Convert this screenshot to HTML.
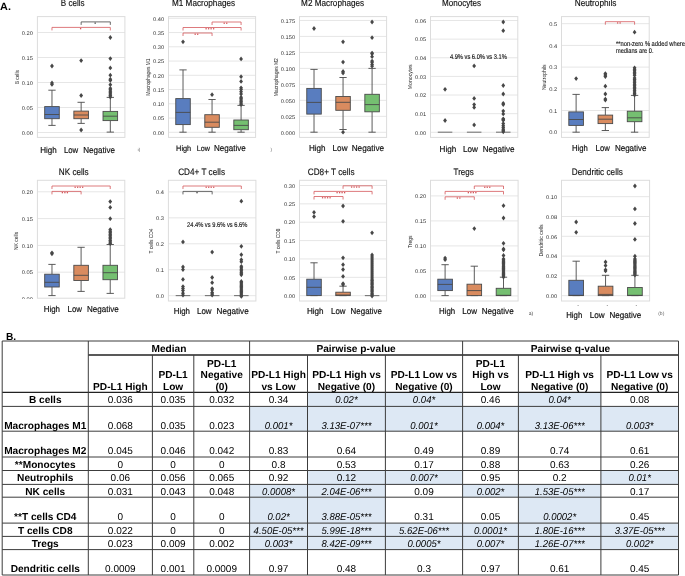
<!DOCTYPE html>
<html><head><meta charset="utf-8"><style>
html,body{margin:0;padding:0;background:#fff;width:685px;height:576px;overflow:hidden}
svg{display:block;font-family:"Liberation Sans",sans-serif;will-change:transform;text-rendering:geometricPrecision}
</style></head><body>
<svg width="685" height="576" viewBox="0 0 685 576">
<rect x="0" y="0" width="685" height="576" fill="#fff"/>
<text transform="translate(0.1,9.55) scale(1.04,1)" x="0" y="0" font-size="10.4" font-weight="bold" fill="#000">A.</text>
<line x1="37.4" y1="132.5" x2="124.9" y2="132.5" stroke="#e6e6e6" stroke-width="1"/>
<line x1="37.4" y1="107.5" x2="124.9" y2="107.5" stroke="#e6e6e6" stroke-width="1"/>
<line x1="37.4" y1="82.5" x2="124.9" y2="82.5" stroke="#e6e6e6" stroke-width="1"/>
<line x1="37.4" y1="57.5" x2="124.9" y2="57.5" stroke="#e6e6e6" stroke-width="1"/>
<line x1="37.4" y1="32.5" x2="124.9" y2="32.5" stroke="#e6e6e6" stroke-width="1"/>
<rect x="37.4" y="16.6" width="87.5" height="120.8" fill="none" stroke="#dcdcdc" stroke-width="1"/>
<text x="21.87" y="134.75" font-size="5.4" textLength="11.13" lengthAdjust="spacingAndGlyphs" fill="#333">0.00</text>
<text x="21.87" y="109.75" font-size="5.4" textLength="11.13" lengthAdjust="spacingAndGlyphs" fill="#333">0.05</text>
<text x="21.87" y="84.75" font-size="5.4" textLength="11.13" lengthAdjust="spacingAndGlyphs" fill="#333">0.10</text>
<text x="21.87" y="59.75" font-size="5.4" textLength="11.13" lengthAdjust="spacingAndGlyphs" fill="#333">0.15</text>
<text x="21.87" y="34.75" font-size="5.4" textLength="11.13" lengthAdjust="spacingAndGlyphs" fill="#333">0.20</text>
<line x1="51.98" y1="118.7" x2="51.98" y2="125.4" stroke="#4a4a4a" stroke-width="0.9"/>
<line x1="51.98" y1="106.6" x2="51.98" y2="90.2" stroke="#4a4a4a" stroke-width="0.9"/>
<line x1="48.34" y1="125.4" x2="55.63" y2="125.4" stroke="#4a4a4a" stroke-width="0.9"/>
<line x1="48.34" y1="90.2" x2="55.63" y2="90.2" stroke="#4a4a4a" stroke-width="0.9"/>
<rect x="44.69" y="106.6" width="14.58" height="12.1" fill="#597dbf" stroke="#4a4a4a" stroke-width="0.9"/>
<line x1="44.69" y1="114.5" x2="59.27" y2="114.5" stroke="#4a4a4a" stroke-width="0.9"/>
<line x1="81.15" y1="118.7" x2="81.15" y2="123.4" stroke="#4a4a4a" stroke-width="0.9"/>
<line x1="81.15" y1="111.1" x2="81.15" y2="102.3" stroke="#4a4a4a" stroke-width="0.9"/>
<line x1="77.5" y1="123.4" x2="84.8" y2="123.4" stroke="#4a4a4a" stroke-width="0.9"/>
<line x1="77.5" y1="102.3" x2="84.8" y2="102.3" stroke="#4a4a4a" stroke-width="0.9"/>
<rect x="73.86" y="111.1" width="14.58" height="7.6" fill="#d98b5f" stroke="#4a4a4a" stroke-width="0.9"/>
<line x1="73.86" y1="115" x2="88.44" y2="115" stroke="#4a4a4a" stroke-width="0.9"/>
<line x1="110.32" y1="120.6" x2="110.32" y2="132.1" stroke="#4a4a4a" stroke-width="0.9"/>
<line x1="110.32" y1="111.4" x2="110.32" y2="97.4" stroke="#4a4a4a" stroke-width="0.9"/>
<line x1="106.67" y1="132.1" x2="113.96" y2="132.1" stroke="#4a4a4a" stroke-width="0.9"/>
<line x1="106.67" y1="97.4" x2="113.96" y2="97.4" stroke="#4a4a4a" stroke-width="0.9"/>
<rect x="103.02" y="111.4" width="14.58" height="9.2" fill="#75bf71" stroke="#4a4a4a" stroke-width="0.9"/>
<line x1="103.02" y1="116.2" x2="117.61" y2="116.2" stroke="#4a4a4a" stroke-width="0.9"/>
<path d="M51.98 63.6L53.88 66L51.98 68.4L50.08 66Z" fill="#474747"/>
<path d="M51.98 80.5L53.88 82.9L51.98 85.3L50.08 82.9Z" fill="#474747"/>
<path d="M51.98 82L53.88 84.4L51.98 86.8L50.08 84.4Z" fill="#474747"/>
<path d="M81.15 58.2L83.05 60.6L81.15 63L79.25 60.6Z" fill="#474747"/>
<path d="M81.15 93.1L83.05 95.5L81.15 97.9L79.25 95.5Z" fill="#474747"/>
<path d="M81.15 127.6L83.05 130L81.15 132.4L79.25 130Z" fill="#474747"/>
<path d="M110.32 35.1L112.22 37.5L110.32 39.9L108.42 37.5Z" fill="#474747"/>
<path d="M110.32 56.2L112.22 58.6L110.32 61L108.42 58.6Z" fill="#474747"/>
<path d="M110.32 65.5L112.22 67.9L110.32 70.3L108.42 67.9Z" fill="#474747"/>
<path d="M110.32 72.8L112.22 75.2L110.32 77.6L108.42 75.2Z" fill="#474747"/>
<path d="M110.32 76.8L112.22 79.2L110.32 81.6L108.42 79.2Z" fill="#474747"/>
<path d="M110.32 78L112.22 80.4L110.32 82.8L108.42 80.4Z" fill="#474747"/>
<path d="M110.32 82.3L112.22 84.7L110.32 87.1L108.42 84.7Z" fill="#474747"/>
<path d="M110.32 85.9L112.22 88.3L110.32 90.7L108.42 88.3Z" fill="#474747"/>
<path d="M110.32 87.35L112.22 89.75L110.32 92.15L108.42 89.75Z" fill="#474747"/>
<path d="M110.32 88.8L112.22 91.2L110.32 93.6L108.42 91.2Z" fill="#474747"/>
<path d="M110.32 90.25L112.22 92.65L110.32 95.05L108.42 92.65Z" fill="#474747"/>
<path d="M110.32 91.7L112.22 94.1L110.32 96.5L108.42 94.1Z" fill="#474747"/>
<path d="M110.32 93.15L112.22 95.55L110.32 97.95L108.42 95.55Z" fill="#474747"/>
<path d="M110.32 94.6L112.22 97L110.32 99.4L108.42 97Z" fill="#474747"/>
<path d="M51.98 30.4V27.4H110.32V30.4" fill="none" stroke="#d4585c" stroke-width="0.8"/>
<rect x="79.95" y="28" width="1.3" height="1.3" fill="#d4585c"/>
<path d="M81.15 24.9V21.9H110.32V24.9" fill="none" stroke="#444" stroke-width="0.8"/>
<rect x="94.53" y="22.5" width="1.3" height="1.3" fill="#444"/>
<text x="60.8" y="6.1" font-size="9.3" textLength="23.8" lengthAdjust="spacingAndGlyphs" fill="#111" stroke="#111" stroke-width="0.15">B cells</text>
<text transform="translate(18.6,77.2) rotate(-90)" x="0" y="0" text-anchor="middle" font-size="5.8" textLength="14.3" lengthAdjust="spacingAndGlyphs" fill="#262626">B cells</text>
<text x="40.2" y="152.7" font-size="8.64" textLength="16.5" lengthAdjust="spacingAndGlyphs" fill="#111" stroke="#111" stroke-width="0.18">High</text>
<text x="63.9" y="152.7" font-size="8.64" textLength="14.3" lengthAdjust="spacingAndGlyphs" fill="#111" stroke="#111" stroke-width="0.18">Low</text>
<text x="83.3" y="152.7" font-size="8.64" textLength="31.8" lengthAdjust="spacingAndGlyphs" fill="#111" stroke="#111" stroke-width="0.18">Negative</text>
<line x1="168.5" y1="132.3" x2="255.6" y2="132.3" stroke="#e6e6e6" stroke-width="1"/>
<line x1="168.5" y1="118.05" x2="255.6" y2="118.05" stroke="#e6e6e6" stroke-width="1"/>
<line x1="168.5" y1="103.8" x2="255.6" y2="103.8" stroke="#e6e6e6" stroke-width="1"/>
<line x1="168.5" y1="89.55" x2="255.6" y2="89.55" stroke="#e6e6e6" stroke-width="1"/>
<line x1="168.5" y1="75.3" x2="255.6" y2="75.3" stroke="#e6e6e6" stroke-width="1"/>
<line x1="168.5" y1="61.05" x2="255.6" y2="61.05" stroke="#e6e6e6" stroke-width="1"/>
<line x1="168.5" y1="46.8" x2="255.6" y2="46.8" stroke="#e6e6e6" stroke-width="1"/>
<line x1="168.5" y1="32.55" x2="255.6" y2="32.55" stroke="#e6e6e6" stroke-width="1"/>
<line x1="168.5" y1="18.3" x2="255.6" y2="18.3" stroke="#e6e6e6" stroke-width="1"/>
<rect x="168.5" y="16.6" width="87.1" height="120.8" fill="none" stroke="#dcdcdc" stroke-width="1"/>
<text x="152.97" y="134.55" font-size="5.4" textLength="11.13" lengthAdjust="spacingAndGlyphs" fill="#333">0.00</text>
<text x="152.97" y="120.3" font-size="5.4" textLength="11.13" lengthAdjust="spacingAndGlyphs" fill="#333">0.05</text>
<text x="152.97" y="106.05" font-size="5.4" textLength="11.13" lengthAdjust="spacingAndGlyphs" fill="#333">0.10</text>
<text x="152.97" y="91.8" font-size="5.4" textLength="11.13" lengthAdjust="spacingAndGlyphs" fill="#333">0.15</text>
<text x="152.97" y="77.55" font-size="5.4" textLength="11.13" lengthAdjust="spacingAndGlyphs" fill="#333">0.20</text>
<text x="152.97" y="63.3" font-size="5.4" textLength="11.13" lengthAdjust="spacingAndGlyphs" fill="#333">0.25</text>
<text x="152.97" y="49.05" font-size="5.4" textLength="11.13" lengthAdjust="spacingAndGlyphs" fill="#333">0.30</text>
<text x="152.97" y="34.8" font-size="5.4" textLength="11.13" lengthAdjust="spacingAndGlyphs" fill="#333">0.35</text>
<text x="152.97" y="20.55" font-size="5.4" textLength="11.13" lengthAdjust="spacingAndGlyphs" fill="#333">0.40</text>
<line x1="183.02" y1="124.6" x2="183.02" y2="132.2" stroke="#4a4a4a" stroke-width="0.9"/>
<line x1="183.02" y1="98.6" x2="183.02" y2="69.9" stroke="#4a4a4a" stroke-width="0.9"/>
<line x1="179.39" y1="132.2" x2="186.65" y2="132.2" stroke="#4a4a4a" stroke-width="0.9"/>
<line x1="179.39" y1="69.9" x2="186.65" y2="69.9" stroke="#4a4a4a" stroke-width="0.9"/>
<rect x="175.76" y="98.6" width="14.52" height="26" fill="#597dbf" stroke="#4a4a4a" stroke-width="0.9"/>
<line x1="175.76" y1="112.4" x2="190.27" y2="112.4" stroke="#4a4a4a" stroke-width="0.9"/>
<line x1="212.05" y1="127.3" x2="212.05" y2="132.2" stroke="#4a4a4a" stroke-width="0.9"/>
<line x1="212.05" y1="114.7" x2="212.05" y2="99.5" stroke="#4a4a4a" stroke-width="0.9"/>
<line x1="208.42" y1="132.2" x2="215.68" y2="132.2" stroke="#4a4a4a" stroke-width="0.9"/>
<line x1="208.42" y1="99.5" x2="215.68" y2="99.5" stroke="#4a4a4a" stroke-width="0.9"/>
<rect x="204.79" y="114.7" width="14.52" height="12.6" fill="#d98b5f" stroke="#4a4a4a" stroke-width="0.9"/>
<line x1="204.79" y1="122.2" x2="219.31" y2="122.2" stroke="#4a4a4a" stroke-width="0.9"/>
<line x1="241.08" y1="129.7" x2="241.08" y2="132.2" stroke="#4a4a4a" stroke-width="0.9"/>
<line x1="241.08" y1="120" x2="241.08" y2="105.4" stroke="#4a4a4a" stroke-width="0.9"/>
<line x1="237.45" y1="132.2" x2="244.71" y2="132.2" stroke="#4a4a4a" stroke-width="0.9"/>
<line x1="237.45" y1="105.4" x2="244.71" y2="105.4" stroke="#4a4a4a" stroke-width="0.9"/>
<rect x="233.82" y="120" width="14.52" height="9.7" fill="#75bf71" stroke="#4a4a4a" stroke-width="0.9"/>
<line x1="233.82" y1="125.4" x2="248.34" y2="125.4" stroke="#4a4a4a" stroke-width="0.9"/>
<path d="M183.02 39.4L184.92 41.8L183.02 44.2L181.12 41.8Z" fill="#474747"/>
<path d="M212.05 92.3L213.95 94.7L212.05 97.1L210.15 94.7Z" fill="#474747"/>
<path d="M241.08 56.5L242.98 58.9L241.08 61.3L239.18 58.9Z" fill="#474747"/>
<path d="M241.08 74.3L242.98 76.7L241.08 79.1L239.18 76.7Z" fill="#474747"/>
<path d="M241.08 79L242.98 81.4L241.08 83.8L239.18 81.4Z" fill="#474747"/>
<path d="M241.08 85.4L242.98 87.8L241.08 90.2L239.18 87.8Z" fill="#474747"/>
<path d="M241.08 87L242.98 89.4L241.08 91.8L239.18 89.4Z" fill="#474747"/>
<path d="M241.08 89.3L242.98 91.7L241.08 94.1L239.18 91.7Z" fill="#474747"/>
<path d="M241.08 91.5L242.98 93.9L241.08 96.3L239.18 93.9Z" fill="#474747"/>
<path d="M241.08 94.8L242.98 97.2L241.08 99.6L239.18 97.2Z" fill="#474747"/>
<path d="M241.08 96.2L242.98 98.6L241.08 101L239.18 98.6Z" fill="#474747"/>
<path d="M241.08 97.67L242.98 100.07L241.08 102.47L239.18 100.07Z" fill="#474747"/>
<path d="M241.08 99.15L242.98 101.55L241.08 103.95L239.18 101.55Z" fill="#474747"/>
<path d="M241.08 100.62L242.98 103.03L241.08 105.43L239.18 103.03Z" fill="#474747"/>
<path d="M241.08 102.1L242.98 104.5L241.08 106.9L239.18 104.5Z" fill="#474747"/>
<path d="M183.02 36V33H212.05V36" fill="none" stroke="#d4585c" stroke-width="0.8"/>
<rect x="194.53" y="33.6" width="1.3" height="1.3" fill="#d4585c"/>
<rect x="197.03" y="33.6" width="1.3" height="1.3" fill="#d4585c"/>
<path d="M183.02 30.5V27.5H241.08V30.5" fill="none" stroke="#d4585c" stroke-width="0.8"/>
<rect x="205.45" y="28.1" width="1.3" height="1.3" fill="#d4585c"/>
<rect x="207.95" y="28.1" width="1.3" height="1.3" fill="#d4585c"/>
<rect x="210.45" y="28.1" width="1.3" height="1.3" fill="#d4585c"/>
<rect x="212.95" y="28.1" width="1.3" height="1.3" fill="#d4585c"/>
<path d="M212.05 25V22H241.08V25" fill="none" stroke="#d4585c" stroke-width="0.8"/>
<rect x="223.57" y="22.6" width="1.3" height="1.3" fill="#d4585c"/>
<rect x="226.07" y="22.6" width="1.3" height="1.3" fill="#d4585c"/>
<text x="172" y="6.1" font-size="9.3" textLength="63.1" lengthAdjust="spacingAndGlyphs" fill="#111" stroke="#111" stroke-width="0.15">M1 Macrophages</text>
<text transform="translate(149.6,77.2) rotate(-90)" x="0" y="0" text-anchor="middle" font-size="5.8" textLength="37.2" lengthAdjust="spacingAndGlyphs" fill="#262626">Macrophages M1</text>
<text x="176.1" y="150.8" font-size="7.99" textLength="15.1" lengthAdjust="spacingAndGlyphs" fill="#111" stroke="#111" stroke-width="0.18">High</text>
<text x="196.8" y="150.8" font-size="7.78" textLength="13.1" lengthAdjust="spacingAndGlyphs" fill="#111" stroke="#111" stroke-width="0.18">Low</text>
<text x="214" y="150.8" font-size="8.64" textLength="31.8" lengthAdjust="spacingAndGlyphs" fill="#111" stroke="#111" stroke-width="0.18">Negative</text>
<line x1="299.5" y1="132.3" x2="386.6" y2="132.3" stroke="#e6e6e6" stroke-width="1"/>
<line x1="299.5" y1="116.32" x2="386.6" y2="116.32" stroke="#e6e6e6" stroke-width="1"/>
<line x1="299.5" y1="100.34" x2="386.6" y2="100.34" stroke="#e6e6e6" stroke-width="1"/>
<line x1="299.5" y1="84.36" x2="386.6" y2="84.36" stroke="#e6e6e6" stroke-width="1"/>
<line x1="299.5" y1="68.38" x2="386.6" y2="68.38" stroke="#e6e6e6" stroke-width="1"/>
<line x1="299.5" y1="52.4" x2="386.6" y2="52.4" stroke="#e6e6e6" stroke-width="1"/>
<line x1="299.5" y1="36.42" x2="386.6" y2="36.42" stroke="#e6e6e6" stroke-width="1"/>
<line x1="299.5" y1="20.44" x2="386.6" y2="20.44" stroke="#e6e6e6" stroke-width="1"/>
<rect x="299.5" y="16.6" width="87.1" height="120.8" fill="none" stroke="#dcdcdc" stroke-width="1"/>
<text x="280.79" y="134.55" font-size="5.4" textLength="14.31" lengthAdjust="spacingAndGlyphs" fill="#333">0.000</text>
<text x="280.79" y="118.57" font-size="5.4" textLength="14.31" lengthAdjust="spacingAndGlyphs" fill="#333">0.025</text>
<text x="280.79" y="102.59" font-size="5.4" textLength="14.31" lengthAdjust="spacingAndGlyphs" fill="#333">0.050</text>
<text x="280.79" y="86.61" font-size="5.4" textLength="14.31" lengthAdjust="spacingAndGlyphs" fill="#333">0.075</text>
<text x="280.79" y="70.63" font-size="5.4" textLength="14.31" lengthAdjust="spacingAndGlyphs" fill="#333">0.100</text>
<text x="280.79" y="54.65" font-size="5.4" textLength="14.31" lengthAdjust="spacingAndGlyphs" fill="#333">0.125</text>
<text x="280.79" y="38.67" font-size="5.4" textLength="14.31" lengthAdjust="spacingAndGlyphs" fill="#333">0.150</text>
<text x="280.79" y="22.69" font-size="5.4" textLength="14.31" lengthAdjust="spacingAndGlyphs" fill="#333">0.175</text>
<line x1="314.02" y1="114.1" x2="314.02" y2="132.2" stroke="#4a4a4a" stroke-width="0.9"/>
<line x1="314.02" y1="88.4" x2="314.02" y2="69.4" stroke="#4a4a4a" stroke-width="0.9"/>
<line x1="310.39" y1="132.2" x2="317.65" y2="132.2" stroke="#4a4a4a" stroke-width="0.9"/>
<line x1="310.39" y1="69.4" x2="317.65" y2="69.4" stroke="#4a4a4a" stroke-width="0.9"/>
<rect x="306.76" y="88.4" width="14.52" height="25.7" fill="#597dbf" stroke="#4a4a4a" stroke-width="0.9"/>
<line x1="306.76" y1="102.4" x2="321.27" y2="102.4" stroke="#4a4a4a" stroke-width="0.9"/>
<line x1="343.05" y1="110.3" x2="343.05" y2="129.5" stroke="#4a4a4a" stroke-width="0.9"/>
<line x1="343.05" y1="96.5" x2="343.05" y2="77.5" stroke="#4a4a4a" stroke-width="0.9"/>
<line x1="339.42" y1="129.5" x2="346.68" y2="129.5" stroke="#4a4a4a" stroke-width="0.9"/>
<line x1="339.42" y1="77.5" x2="346.68" y2="77.5" stroke="#4a4a4a" stroke-width="0.9"/>
<rect x="335.79" y="96.5" width="14.52" height="13.8" fill="#d98b5f" stroke="#4a4a4a" stroke-width="0.9"/>
<line x1="335.79" y1="102.3" x2="350.31" y2="102.3" stroke="#4a4a4a" stroke-width="0.9"/>
<line x1="372.08" y1="111.8" x2="372.08" y2="132.2" stroke="#4a4a4a" stroke-width="0.9"/>
<line x1="372.08" y1="94.3" x2="372.08" y2="68.4" stroke="#4a4a4a" stroke-width="0.9"/>
<line x1="368.45" y1="132.2" x2="375.71" y2="132.2" stroke="#4a4a4a" stroke-width="0.9"/>
<line x1="368.45" y1="68.4" x2="375.71" y2="68.4" stroke="#4a4a4a" stroke-width="0.9"/>
<rect x="364.83" y="94.3" width="14.52" height="17.5" fill="#75bf71" stroke="#4a4a4a" stroke-width="0.9"/>
<line x1="364.83" y1="104.6" x2="379.34" y2="104.6" stroke="#4a4a4a" stroke-width="0.9"/>
<path d="M314.02 26.1L315.92 28.5L314.02 30.9L312.12 28.5Z" fill="#474747"/>
<path d="M343.05 39.4L344.95 41.8L343.05 44.2L341.15 41.8Z" fill="#474747"/>
<path d="M343.05 59.7L344.95 62.1L343.05 64.5L341.15 62.1Z" fill="#474747"/>
<path d="M343.05 69.1L344.95 71.5L343.05 73.9L341.15 71.5Z" fill="#474747"/>
<path d="M343.05 70.6L344.95 73L343.05 75.4L341.15 73Z" fill="#474747"/>
<path d="M343.05 129.8L344.95 132.2L343.05 134.6L341.15 132.2Z" fill="#474747"/>
<path d="M372.08 19.6L373.98 22L372.08 24.4L370.18 22Z" fill="#474747"/>
<path d="M372.08 35.3L373.98 37.7L372.08 40.1L370.18 37.7Z" fill="#474747"/>
<path d="M372.08 50.7L373.98 53.1L372.08 55.5L370.18 53.1Z" fill="#474747"/>
<path d="M372.08 51.4L373.98 53.8L372.08 56.2L370.18 53.8Z" fill="#474747"/>
<path d="M372.08 54.3L373.98 56.7L372.08 59.1L370.18 56.7Z" fill="#474747"/>
<path d="M372.08 58.7L373.98 61.1L372.08 63.5L370.18 61.1Z" fill="#474747"/>
<path d="M372.08 59.9L373.98 62.3L372.08 64.7L370.18 62.3Z" fill="#474747"/>
<path d="M372.08 62.1L373.98 64.5L372.08 66.9L370.18 64.5Z" fill="#474747"/>
<path d="M372.08 63.8L373.98 66.2L372.08 68.6L370.18 66.2Z" fill="#474747"/>
<text x="301.1" y="6.1" font-size="9.3" textLength="63.1" lengthAdjust="spacingAndGlyphs" fill="#111" stroke="#111" stroke-width="0.15">M2 Macrophages</text>
<text transform="translate(277.6,77.2) rotate(-90)" x="0" y="0" text-anchor="middle" font-size="5.8" textLength="38" lengthAdjust="spacingAndGlyphs" fill="#262626">Macrophages M2</text>
<text x="308.9" y="150.8" font-size="8.64" textLength="16.7" lengthAdjust="spacingAndGlyphs" fill="#111" stroke="#111" stroke-width="0.18">High</text>
<text x="332.6" y="150.8" font-size="8.64" textLength="14.9" lengthAdjust="spacingAndGlyphs" fill="#111" stroke="#111" stroke-width="0.18">Low</text>
<text x="351.7" y="150.8" font-size="8.64" textLength="32.4" lengthAdjust="spacingAndGlyphs" fill="#111" stroke="#111" stroke-width="0.18">Negative</text>
<line x1="430.5" y1="132.3" x2="517.8" y2="132.3" stroke="#e6e6e6" stroke-width="1"/>
<line x1="430.5" y1="113.67" x2="517.8" y2="113.67" stroke="#e6e6e6" stroke-width="1"/>
<line x1="430.5" y1="95.04" x2="517.8" y2="95.04" stroke="#e6e6e6" stroke-width="1"/>
<line x1="430.5" y1="76.41" x2="517.8" y2="76.41" stroke="#e6e6e6" stroke-width="1"/>
<line x1="430.5" y1="57.78" x2="517.8" y2="57.78" stroke="#e6e6e6" stroke-width="1"/>
<line x1="430.5" y1="39.15" x2="517.8" y2="39.15" stroke="#e6e6e6" stroke-width="1"/>
<line x1="430.5" y1="20.52" x2="517.8" y2="20.52" stroke="#e6e6e6" stroke-width="1"/>
<rect x="430.5" y="16.6" width="87.3" height="120.8" fill="none" stroke="#dcdcdc" stroke-width="1"/>
<text x="414.97" y="134.55" font-size="5.4" textLength="11.13" lengthAdjust="spacingAndGlyphs" fill="#333">0.00</text>
<text x="414.97" y="115.92" font-size="5.4" textLength="11.13" lengthAdjust="spacingAndGlyphs" fill="#333">0.01</text>
<text x="414.97" y="97.29" font-size="5.4" textLength="11.13" lengthAdjust="spacingAndGlyphs" fill="#333">0.02</text>
<text x="414.97" y="78.66" font-size="5.4" textLength="11.13" lengthAdjust="spacingAndGlyphs" fill="#333">0.03</text>
<text x="414.97" y="60.03" font-size="5.4" textLength="11.13" lengthAdjust="spacingAndGlyphs" fill="#333">0.04</text>
<text x="414.97" y="41.4" font-size="5.4" textLength="11.13" lengthAdjust="spacingAndGlyphs" fill="#333">0.05</text>
<text x="414.97" y="22.77" font-size="5.4" textLength="11.13" lengthAdjust="spacingAndGlyphs" fill="#333">0.06</text>
<line x1="437.78" y1="132.2" x2="452.32" y2="132.2" stroke="#777" stroke-width="1.1"/>
<line x1="466.88" y1="132.2" x2="481.42" y2="132.2" stroke="#777" stroke-width="1.1"/>
<line x1="495.97" y1="132.2" x2="510.52" y2="132.2" stroke="#777" stroke-width="1.1"/>
<path d="M445.05 86.9L446.95 89.3L445.05 91.7L443.15 89.3Z" fill="#474747"/>
<path d="M445.05 118.1L446.95 120.5L445.05 122.9L443.15 120.5Z" fill="#474747"/>
<path d="M474.15 63.5L476.05 65.9L474.15 68.3L472.25 65.9Z" fill="#474747"/>
<path d="M474.15 96L476.05 98.4L474.15 100.8L472.25 98.4Z" fill="#474747"/>
<path d="M474.15 102.2L476.05 104.6L474.15 107L472.25 104.6Z" fill="#474747"/>
<path d="M474.15 105L476.05 107.4L474.15 109.8L472.25 107.4Z" fill="#474747"/>
<path d="M474.15 122.5L476.05 124.9L474.15 127.3L472.25 124.9Z" fill="#474747"/>
<path d="M503.25 19.6L505.15 22L503.25 24.4L501.35 22Z" fill="#474747"/>
<path d="M503.25 28.3L505.15 30.7L503.25 33.1L501.35 30.7Z" fill="#474747"/>
<path d="M503.25 83.1L505.15 85.5L503.25 87.9L501.35 85.5Z" fill="#474747"/>
<path d="M503.25 91.6L505.15 94L503.25 96.4L501.35 94Z" fill="#474747"/>
<path d="M503.25 100.9L505.15 103.3L503.25 105.7L501.35 103.3Z" fill="#474747"/>
<path d="M503.25 102.1L505.15 104.5L503.25 106.9L501.35 104.5Z" fill="#474747"/>
<path d="M503.25 108.7L505.15 111.1L503.25 113.5L501.35 111.1Z" fill="#474747"/>
<path d="M503.25 111.5L505.15 113.9L503.25 116.3L501.35 113.9Z" fill="#474747"/>
<path d="M503.25 116.4L505.15 118.8L503.25 121.2L501.35 118.8Z" fill="#474747"/>
<path d="M503.25 117.2L505.15 119.6L503.25 122L501.35 119.6Z" fill="#474747"/>
<path d="M503.25 117.9L505.15 120.3L503.25 122.7L501.35 120.3Z" fill="#474747"/>
<path d="M503.25 121.2L505.15 123.6L503.25 126L501.35 123.6Z" fill="#474747"/>
<path d="M503.25 123.3L505.15 125.7L503.25 128.1L501.35 125.7Z" fill="#474747"/>
<path d="M503.25 125L505.15 127.4L503.25 129.8L501.35 127.4Z" fill="#474747"/>
<path d="M503.25 126.8L505.15 129.2L503.25 131.6L501.35 129.2Z" fill="#474747"/>
<path d="M503.25 128.2L505.15 130.6L503.25 133L501.35 130.6Z" fill="#474747"/>
<path d="M503.25 129.4L505.15 131.8L503.25 134.2L501.35 131.8Z" fill="#474747"/>
<text x="442" y="6.1" font-size="9.3" textLength="39.1" lengthAdjust="spacingAndGlyphs" fill="#111" stroke="#111" stroke-width="0.15">Monocytes</text>
<text transform="translate(411.9,76.8) rotate(-90)" x="0" y="0" text-anchor="middle" font-size="5.8" textLength="24.9" lengthAdjust="spacingAndGlyphs" fill="#262626">Monocytes</text>
<text x="439.6" y="152" font-size="8.64" textLength="16.7" lengthAdjust="spacingAndGlyphs" fill="#111" stroke="#111" stroke-width="0.18">High</text>
<text x="462.9" y="152" font-size="8.64" textLength="14.9" lengthAdjust="spacingAndGlyphs" fill="#111" stroke="#111" stroke-width="0.18">Low</text>
<text x="482.7" y="152" font-size="8.64" textLength="31.9" lengthAdjust="spacingAndGlyphs" fill="#111" stroke="#111" stroke-width="0.18">Negative</text>
<text x="449.9" y="59.3" font-size="6.9" textLength="57" lengthAdjust="spacingAndGlyphs" fill="#111" stroke="#111" stroke-width="0.12">4.9% vs 6.0% vs 3.1%</text>
<line x1="561.5" y1="132.2" x2="649.2" y2="132.2" stroke="#e6e6e6" stroke-width="1"/>
<line x1="561.5" y1="110.5" x2="649.2" y2="110.5" stroke="#e6e6e6" stroke-width="1"/>
<line x1="561.5" y1="88.8" x2="649.2" y2="88.8" stroke="#e6e6e6" stroke-width="1"/>
<line x1="561.5" y1="67.1" x2="649.2" y2="67.1" stroke="#e6e6e6" stroke-width="1"/>
<line x1="561.5" y1="45.4" x2="649.2" y2="45.4" stroke="#e6e6e6" stroke-width="1"/>
<line x1="561.5" y1="23.7" x2="649.2" y2="23.7" stroke="#e6e6e6" stroke-width="1"/>
<rect x="561.5" y="16.6" width="87.7" height="120.8" fill="none" stroke="#dcdcdc" stroke-width="1"/>
<text x="549.15" y="134.45" font-size="5.4" textLength="7.95" lengthAdjust="spacingAndGlyphs" fill="#333">0.0</text>
<text x="549.15" y="112.75" font-size="5.4" textLength="7.95" lengthAdjust="spacingAndGlyphs" fill="#333">0.1</text>
<text x="549.15" y="91.05" font-size="5.4" textLength="7.95" lengthAdjust="spacingAndGlyphs" fill="#333">0.2</text>
<text x="549.15" y="69.35" font-size="5.4" textLength="7.95" lengthAdjust="spacingAndGlyphs" fill="#333">0.3</text>
<text x="549.15" y="47.65" font-size="5.4" textLength="7.95" lengthAdjust="spacingAndGlyphs" fill="#333">0.4</text>
<text x="549.15" y="25.95" font-size="5.4" textLength="7.95" lengthAdjust="spacingAndGlyphs" fill="#333">0.5</text>
<line x1="576.12" y1="125.4" x2="576.12" y2="132.2" stroke="#4a4a4a" stroke-width="0.9"/>
<line x1="576.12" y1="111.9" x2="576.12" y2="94.4" stroke="#4a4a4a" stroke-width="0.9"/>
<line x1="572.46" y1="132.2" x2="579.77" y2="132.2" stroke="#4a4a4a" stroke-width="0.9"/>
<line x1="572.46" y1="94.4" x2="579.77" y2="94.4" stroke="#4a4a4a" stroke-width="0.9"/>
<rect x="568.81" y="111.9" width="14.62" height="13.5" fill="#597dbf" stroke="#4a4a4a" stroke-width="0.9"/>
<line x1="568.81" y1="119.5" x2="583.42" y2="119.5" stroke="#4a4a4a" stroke-width="0.9"/>
<line x1="605.35" y1="123.6" x2="605.35" y2="130.5" stroke="#4a4a4a" stroke-width="0.9"/>
<line x1="605.35" y1="115.1" x2="605.35" y2="107.6" stroke="#4a4a4a" stroke-width="0.9"/>
<line x1="601.7" y1="130.5" x2="609" y2="130.5" stroke="#4a4a4a" stroke-width="0.9"/>
<line x1="601.7" y1="107.6" x2="609" y2="107.6" stroke="#4a4a4a" stroke-width="0.9"/>
<rect x="598.04" y="115.1" width="14.62" height="8.5" fill="#d98b5f" stroke="#4a4a4a" stroke-width="0.9"/>
<line x1="598.04" y1="119.2" x2="612.66" y2="119.2" stroke="#4a4a4a" stroke-width="0.9"/>
<line x1="634.58" y1="121.7" x2="634.58" y2="132.2" stroke="#4a4a4a" stroke-width="0.9"/>
<line x1="634.58" y1="111.2" x2="634.58" y2="95.4" stroke="#4a4a4a" stroke-width="0.9"/>
<line x1="630.93" y1="132.2" x2="638.24" y2="132.2" stroke="#4a4a4a" stroke-width="0.9"/>
<line x1="630.93" y1="95.4" x2="638.24" y2="95.4" stroke="#4a4a4a" stroke-width="0.9"/>
<rect x="627.28" y="111.2" width="14.62" height="10.5" fill="#75bf71" stroke="#4a4a4a" stroke-width="0.9"/>
<line x1="627.28" y1="117.8" x2="641.89" y2="117.8" stroke="#4a4a4a" stroke-width="0.9"/>
<path d="M576.12 76.2L578.02 78.6L576.12 81L574.22 78.6Z" fill="#474747"/>
<path d="M605.35 71.2L607.25 73.6L605.35 76L603.45 73.6Z" fill="#474747"/>
<path d="M605.35 72.6L607.25 75L605.35 77.4L603.45 75Z" fill="#474747"/>
<path d="M605.35 74.1L607.25 76.5L605.35 78.9L603.45 76.5Z" fill="#474747"/>
<path d="M605.35 83.8L607.25 86.2L605.35 88.6L603.45 86.2Z" fill="#474747"/>
<path d="M605.35 91.6L607.25 94L605.35 96.4L603.45 94Z" fill="#474747"/>
<path d="M605.35 96.7L607.25 99.1L605.35 101.5L603.45 99.1Z" fill="#474747"/>
<path d="M605.35 97.7L607.25 100.1L605.35 102.5L603.45 100.1Z" fill="#474747"/>
<path d="M634.58 29.8L636.48 32.2L634.58 34.6L632.68 32.2Z" fill="#474747"/>
<path d="M634.58 65.4L636.48 67.8L634.58 70.2L632.68 67.8Z" fill="#474747"/>
<path d="M634.58 66.9L636.48 69.3L634.58 71.7L632.68 69.3Z" fill="#474747"/>
<path d="M634.58 68.4L636.48 70.8L634.58 73.2L632.68 70.8Z" fill="#474747"/>
<path d="M634.58 69.9L636.48 72.3L634.58 74.7L632.68 72.3Z" fill="#474747"/>
<path d="M634.58 71.4L636.48 73.8L634.58 76.2L632.68 73.8Z" fill="#474747"/>
<path d="M634.58 72.9L636.48 75.3L634.58 77.7L632.68 75.3Z" fill="#474747"/>
<path d="M634.58 75.6L636.48 78L634.58 80.4L632.68 78Z" fill="#474747"/>
<path d="M634.58 77.15L636.48 79.55L634.58 81.95L632.68 79.55Z" fill="#474747"/>
<path d="M634.58 78.69L636.48 81.09L634.58 83.49L632.68 81.09Z" fill="#474747"/>
<path d="M634.58 80.24L636.48 82.64L634.58 85.04L632.68 82.64Z" fill="#474747"/>
<path d="M634.58 81.78L636.48 84.18L634.58 86.58L632.68 84.18Z" fill="#474747"/>
<path d="M634.58 83.33L636.48 85.73L634.58 88.13L632.68 85.73Z" fill="#474747"/>
<path d="M634.58 84.87L636.48 87.27L634.58 89.67L632.68 87.27Z" fill="#474747"/>
<path d="M634.58 86.42L636.48 88.82L634.58 91.22L632.68 88.82Z" fill="#474747"/>
<path d="M634.58 87.96L636.48 90.36L634.58 92.76L632.68 90.36Z" fill="#474747"/>
<path d="M634.58 89.51L636.48 91.91L634.58 94.31L632.68 91.91Z" fill="#474747"/>
<path d="M634.58 91.05L636.48 93.45L634.58 95.85L632.68 93.45Z" fill="#474747"/>
<path d="M634.58 92.6L636.48 95L634.58 97.4L632.68 95Z" fill="#474747"/>
<path d="M605.35 24.7V21.7H634.58V24.7" fill="none" stroke="#d4585c" stroke-width="0.8"/>
<rect x="616.97" y="22.3" width="1.3" height="1.3" fill="#d4585c"/>
<rect x="619.47" y="22.3" width="1.3" height="1.3" fill="#d4585c"/>
<text x="574.7" y="6.1" font-size="9.3" textLength="41.7" lengthAdjust="spacingAndGlyphs" fill="#111" stroke="#111" stroke-width="0.15">Neutrophils</text>
<text transform="translate(546,77.2) rotate(-90)" x="0" y="0" text-anchor="middle" font-size="5.8" textLength="25.7" lengthAdjust="spacingAndGlyphs" fill="#262626">Neutrophils</text>
<text x="572" y="150.8" font-size="8.64" textLength="15.9" lengthAdjust="spacingAndGlyphs" fill="#111" stroke="#111" stroke-width="0.18">High</text>
<text x="595.6" y="150.8" font-size="8.64" textLength="14.2" lengthAdjust="spacingAndGlyphs" fill="#111" stroke="#111" stroke-width="0.18">Low</text>
<text x="614.9" y="150.8" font-size="8.64" textLength="31.7" lengthAdjust="spacingAndGlyphs" fill="#111" stroke="#111" stroke-width="0.18">Negative</text>
<text x="616" y="45.8" font-size="6.9" textLength="69" lengthAdjust="spacingAndGlyphs" fill="#111" stroke="#111" stroke-width="0.12">**non-zero % added where</text>
<text x="616" y="52.8" font-size="6.9" textLength="37.5" lengthAdjust="spacingAndGlyphs" fill="#111" stroke="#111" stroke-width="0.12">medians are 0.</text>
<line x1="37.4" y1="272.2" x2="124.8" y2="272.2" stroke="#e6e6e6" stroke-width="1"/>
<line x1="37.4" y1="245.4" x2="124.8" y2="245.4" stroke="#e6e6e6" stroke-width="1"/>
<line x1="37.4" y1="218.6" x2="124.8" y2="218.6" stroke="#e6e6e6" stroke-width="1"/>
<line x1="37.4" y1="191.8" x2="124.8" y2="191.8" stroke="#e6e6e6" stroke-width="1"/>
<rect x="37.4" y="180.3" width="87.4" height="117.9" fill="none" stroke="#dcdcdc" stroke-width="1"/>
<text x="21.87" y="274.45" font-size="5.4" textLength="11.13" lengthAdjust="spacingAndGlyphs" fill="#333">0.05</text>
<text x="21.87" y="247.65" font-size="5.4" textLength="11.13" lengthAdjust="spacingAndGlyphs" fill="#333">0.10</text>
<text x="21.87" y="220.85" font-size="5.4" textLength="11.13" lengthAdjust="spacingAndGlyphs" fill="#333">0.15</text>
<text x="21.87" y="194.05" font-size="5.4" textLength="11.13" lengthAdjust="spacingAndGlyphs" fill="#333">0.20</text>
<text x="21.87" y="301.45" font-size="5.4" textLength="11.13" lengthAdjust="spacingAndGlyphs" fill="#333">0.00</text>
<line x1="51.97" y1="287" x2="51.97" y2="295.6" stroke="#4a4a4a" stroke-width="0.9"/>
<line x1="51.97" y1="274.2" x2="51.97" y2="264.4" stroke="#4a4a4a" stroke-width="0.9"/>
<line x1="48.33" y1="295.6" x2="55.61" y2="295.6" stroke="#4a4a4a" stroke-width="0.9"/>
<line x1="48.33" y1="264.4" x2="55.61" y2="264.4" stroke="#4a4a4a" stroke-width="0.9"/>
<rect x="44.68" y="274.2" width="14.57" height="12.8" fill="#597dbf" stroke="#4a4a4a" stroke-width="0.9"/>
<line x1="44.68" y1="282.3" x2="59.25" y2="282.3" stroke="#4a4a4a" stroke-width="0.9"/>
<line x1="81.1" y1="280.5" x2="81.1" y2="291.4" stroke="#4a4a4a" stroke-width="0.9"/>
<line x1="81.1" y1="265.3" x2="81.1" y2="247.3" stroke="#4a4a4a" stroke-width="0.9"/>
<line x1="77.46" y1="291.4" x2="84.74" y2="291.4" stroke="#4a4a4a" stroke-width="0.9"/>
<line x1="77.46" y1="247.3" x2="84.74" y2="247.3" stroke="#4a4a4a" stroke-width="0.9"/>
<rect x="73.82" y="265.3" width="14.57" height="15.2" fill="#d98b5f" stroke="#4a4a4a" stroke-width="0.9"/>
<line x1="73.82" y1="275.3" x2="88.38" y2="275.3" stroke="#4a4a4a" stroke-width="0.9"/>
<line x1="110.23" y1="279.7" x2="110.23" y2="293.4" stroke="#4a4a4a" stroke-width="0.9"/>
<line x1="110.23" y1="265.3" x2="110.23" y2="244.5" stroke="#4a4a4a" stroke-width="0.9"/>
<line x1="106.59" y1="293.4" x2="113.88" y2="293.4" stroke="#4a4a4a" stroke-width="0.9"/>
<line x1="106.59" y1="244.5" x2="113.88" y2="244.5" stroke="#4a4a4a" stroke-width="0.9"/>
<rect x="102.95" y="265.3" width="14.57" height="14.4" fill="#75bf71" stroke="#4a4a4a" stroke-width="0.9"/>
<line x1="102.95" y1="272.7" x2="117.52" y2="272.7" stroke="#4a4a4a" stroke-width="0.9"/>
<path d="M51.97 250.4L53.87 252.8L51.97 255.2L50.07 252.8Z" fill="#474747"/>
<path d="M51.97 251.4L53.87 253.8L51.97 256.2L50.07 253.8Z" fill="#474747"/>
<path d="M110.23 199.2L112.13 201.6L110.23 204L108.33 201.6Z" fill="#474747"/>
<path d="M110.23 205L112.13 207.4L110.23 209.8L108.33 207.4Z" fill="#474747"/>
<path d="M110.23 216.3L112.13 218.7L110.23 221.1L108.33 218.7Z" fill="#474747"/>
<path d="M110.23 227.2L112.13 229.6L110.23 232L108.33 229.6Z" fill="#474747"/>
<path d="M110.23 228.74L112.13 231.14L110.23 233.54L108.33 231.14Z" fill="#474747"/>
<path d="M110.23 230.29L112.13 232.69L110.23 235.09L108.33 232.69Z" fill="#474747"/>
<path d="M110.23 231.83L112.13 234.23L110.23 236.63L108.33 234.23Z" fill="#474747"/>
<path d="M110.23 233.38L112.13 235.78L110.23 238.18L108.33 235.78Z" fill="#474747"/>
<path d="M110.23 234.92L112.13 237.32L110.23 239.72L108.33 237.32Z" fill="#474747"/>
<path d="M110.23 236.47L112.13 238.87L110.23 241.27L108.33 238.87Z" fill="#474747"/>
<path d="M110.23 238.01L112.13 240.41L110.23 242.81L108.33 240.41Z" fill="#474747"/>
<path d="M110.23 239.56L112.13 241.96L110.23 244.36L108.33 241.96Z" fill="#474747"/>
<path d="M110.23 241.1L112.13 243.5L110.23 245.9L108.33 243.5Z" fill="#474747"/>
<path d="M51.97 189V186H110.23V189" fill="none" stroke="#d4585c" stroke-width="0.8"/>
<rect x="74.5" y="186.6" width="1.3" height="1.3" fill="#d4585c"/>
<rect x="77" y="186.6" width="1.3" height="1.3" fill="#d4585c"/>
<rect x="79.5" y="186.6" width="1.3" height="1.3" fill="#d4585c"/>
<rect x="82" y="186.6" width="1.3" height="1.3" fill="#d4585c"/>
<path d="M51.97 194.4V191.4H81.1V194.4" fill="none" stroke="#d4585c" stroke-width="0.8"/>
<rect x="61.73" y="192" width="1.3" height="1.3" fill="#d4585c"/>
<rect x="64.23" y="192" width="1.3" height="1.3" fill="#d4585c"/>
<rect x="66.73" y="192" width="1.3" height="1.3" fill="#d4585c"/>
<text x="58.8" y="174.8" font-size="9.3" textLength="29.9" lengthAdjust="spacingAndGlyphs" fill="#111" stroke="#111" stroke-width="0.15">NK cells</text>
<text transform="translate(18.4,240.9) rotate(-90)" x="0" y="0" text-anchor="middle" font-size="5.8" textLength="18" lengthAdjust="spacingAndGlyphs" fill="#262626">NK cells</text>
<text x="43.7" y="311.6" font-size="8.64" textLength="16.3" lengthAdjust="spacingAndGlyphs" fill="#111" stroke="#111" stroke-width="0.18">High</text>
<text x="67.5" y="311.6" font-size="8.64" textLength="14.5" lengthAdjust="spacingAndGlyphs" fill="#111" stroke="#111" stroke-width="0.18">Low</text>
<text x="87" y="311.6" font-size="8.64" textLength="31.8" lengthAdjust="spacingAndGlyphs" fill="#111" stroke="#111" stroke-width="0.18">Negative</text>
<line x1="168.4" y1="295.7" x2="255.9" y2="295.7" stroke="#e6e6e6" stroke-width="1"/>
<line x1="168.4" y1="269.75" x2="255.9" y2="269.75" stroke="#e6e6e6" stroke-width="1"/>
<line x1="168.4" y1="243.8" x2="255.9" y2="243.8" stroke="#e6e6e6" stroke-width="1"/>
<line x1="168.4" y1="217.85" x2="255.9" y2="217.85" stroke="#e6e6e6" stroke-width="1"/>
<line x1="168.4" y1="191.9" x2="255.9" y2="191.9" stroke="#e6e6e6" stroke-width="1"/>
<rect x="168.4" y="180.3" width="87.5" height="120.7" fill="none" stroke="#dcdcdc" stroke-width="1"/>
<text x="156.05" y="297.95" font-size="5.4" textLength="7.95" lengthAdjust="spacingAndGlyphs" fill="#333">0.0</text>
<text x="156.05" y="272" font-size="5.4" textLength="7.95" lengthAdjust="spacingAndGlyphs" fill="#333">0.1</text>
<text x="156.05" y="246.05" font-size="5.4" textLength="7.95" lengthAdjust="spacingAndGlyphs" fill="#333">0.2</text>
<text x="156.05" y="220.1" font-size="5.4" textLength="7.95" lengthAdjust="spacingAndGlyphs" fill="#333">0.3</text>
<text x="156.05" y="194.15" font-size="5.4" textLength="7.95" lengthAdjust="spacingAndGlyphs" fill="#333">0.4</text>
<line x1="175.69" y1="295.6" x2="190.28" y2="295.6" stroke="#777" stroke-width="1.1"/>
<line x1="204.86" y1="295.6" x2="219.44" y2="295.6" stroke="#777" stroke-width="1.1"/>
<line x1="234.03" y1="295.6" x2="248.61" y2="295.6" stroke="#777" stroke-width="1.1"/>
<path d="M182.98 239.5L184.88 241.9L182.98 244.3L181.08 241.9Z" fill="#474747"/>
<path d="M182.98 264.5L184.88 266.9L182.98 269.3L181.08 266.9Z" fill="#474747"/>
<path d="M182.98 267.2L184.88 269.6L182.98 272L181.08 269.6Z" fill="#474747"/>
<path d="M182.98 277L184.88 279.4L182.98 281.8L181.08 279.4Z" fill="#474747"/>
<path d="M182.98 284.2L184.88 286.6L182.98 289L181.08 286.6Z" fill="#474747"/>
<path d="M182.98 286.2L184.88 288.6L182.98 291L181.08 288.6Z" fill="#474747"/>
<path d="M182.98 288.2L184.88 290.6L182.98 293L181.08 290.6Z" fill="#474747"/>
<path d="M182.98 290.8L184.88 293.2L182.98 295.6L181.08 293.2Z" fill="#474747"/>
<path d="M182.98 292.8L184.88 295.2L182.98 297.6L181.08 295.2Z" fill="#474747"/>
<path d="M212.15 249.7L214.05 252.1L212.15 254.5L210.25 252.1Z" fill="#474747"/>
<path d="M212.15 275.1L214.05 277.5L212.15 279.9L210.25 277.5Z" fill="#474747"/>
<path d="M212.15 280.3L214.05 282.7L212.15 285.1L210.25 282.7Z" fill="#474747"/>
<path d="M212.15 286.2L214.05 288.6L212.15 291L210.25 288.6Z" fill="#474747"/>
<path d="M212.15 287.5L214.05 289.9L212.15 292.3L210.25 289.9Z" fill="#474747"/>
<path d="M212.15 290.2L214.05 292.6L212.15 295L210.25 292.6Z" fill="#474747"/>
<path d="M212.15 291.5L214.05 293.9L212.15 296.3L210.25 293.9Z" fill="#474747"/>
<path d="M212.15 292.8L214.05 295.2L212.15 297.6L210.25 295.2Z" fill="#474747"/>
<path d="M241.32 198.8L243.22 201.2L241.32 203.6L239.42 201.2Z" fill="#474747"/>
<path d="M241.32 243.9L243.22 246.3L241.32 248.7L239.42 246.3Z" fill="#474747"/>
<path d="M241.32 252.3L243.22 254.7L241.32 257.1L239.42 254.7Z" fill="#474747"/>
<path d="M241.32 257.3L243.22 259.7L241.32 262.1L239.42 259.7Z" fill="#474747"/>
<path d="M241.32 259.3L243.22 261.7L241.32 264.1L239.42 261.7Z" fill="#474747"/>
<path d="M241.32 263.9L243.22 266.3L241.32 268.7L239.42 266.3Z" fill="#474747"/>
<path d="M241.32 265.4L243.22 267.8L241.32 270.2L239.42 267.8Z" fill="#474747"/>
<path d="M241.32 266.9L243.22 269.3L241.32 271.7L239.42 269.3Z" fill="#474747"/>
<path d="M241.32 268.4L243.22 270.8L241.32 273.2L239.42 270.8Z" fill="#474747"/>
<path d="M241.32 269.9L243.22 272.3L241.32 274.7L239.42 272.3Z" fill="#474747"/>
<path d="M241.32 271.4L243.22 273.8L241.32 276.2L239.42 273.8Z" fill="#474747"/>
<path d="M241.32 272.4L243.22 274.8L241.32 277.2L239.42 274.8Z" fill="#474747"/>
<path d="M241.32 279L243.22 281.4L241.32 283.8L239.42 281.4Z" fill="#474747"/>
<path d="M241.32 280.25L243.22 282.65L241.32 285.05L239.42 282.65Z" fill="#474747"/>
<path d="M241.32 281.5L243.22 283.9L241.32 286.3L239.42 283.9Z" fill="#474747"/>
<path d="M241.32 282.75L243.22 285.15L241.32 287.55L239.42 285.15Z" fill="#474747"/>
<path d="M241.32 284L243.22 286.4L241.32 288.8L239.42 286.4Z" fill="#474747"/>
<path d="M241.32 285.25L243.22 287.65L241.32 290.05L239.42 287.65Z" fill="#474747"/>
<path d="M241.32 286.5L243.22 288.9L241.32 291.3L239.42 288.9Z" fill="#474747"/>
<path d="M241.32 287.75L243.22 290.15L241.32 292.55L239.42 290.15Z" fill="#474747"/>
<path d="M241.32 289L243.22 291.4L241.32 293.8L239.42 291.4Z" fill="#474747"/>
<path d="M241.32 290.25L243.22 292.65L241.32 295.05L239.42 292.65Z" fill="#474747"/>
<path d="M241.32 291.5L243.22 293.9L241.32 296.3L239.42 293.9Z" fill="#474747"/>
<path d="M241.32 292.75L243.22 295.15L241.32 297.55L239.42 295.15Z" fill="#474747"/>
<path d="M241.32 294L243.22 296.4L241.32 298.8L239.42 296.4Z" fill="#474747"/>
<path d="M182.98 189V186H241.32V189" fill="none" stroke="#d4585c" stroke-width="0.8"/>
<rect x="205.55" y="186.6" width="1.3" height="1.3" fill="#d4585c"/>
<rect x="208.05" y="186.6" width="1.3" height="1.3" fill="#d4585c"/>
<rect x="210.55" y="186.6" width="1.3" height="1.3" fill="#d4585c"/>
<rect x="213.05" y="186.6" width="1.3" height="1.3" fill="#d4585c"/>
<path d="M182.98 194.4V191.4H212.15V194.4" fill="none" stroke="#444" stroke-width="0.8"/>
<rect x="196.37" y="192" width="1.3" height="1.3" fill="#444"/>
<text x="178.2" y="174.8" font-size="9.3" textLength="46.8" lengthAdjust="spacingAndGlyphs" fill="#111" stroke="#111" stroke-width="0.15">CD4+ T cells</text>
<text transform="translate(153.3,241) rotate(-90)" x="0" y="0" text-anchor="middle" font-size="5.8" textLength="25" lengthAdjust="spacingAndGlyphs" fill="#262626">T cells CD4</text>
<text x="173.8" y="313.6" font-size="8.64" textLength="16.2" lengthAdjust="spacingAndGlyphs" fill="#111" stroke="#111" stroke-width="0.18">High</text>
<text x="197" y="313.6" font-size="8.64" textLength="14.6" lengthAdjust="spacingAndGlyphs" fill="#111" stroke="#111" stroke-width="0.18">Low</text>
<text x="216.6" y="313.6" font-size="8.64" textLength="32.1" lengthAdjust="spacingAndGlyphs" fill="#111" stroke="#111" stroke-width="0.18">Negative</text>
<text x="187" y="226.5" font-size="6.9" textLength="60.3" lengthAdjust="spacingAndGlyphs" fill="#111" stroke="#111" stroke-width="0.12">24.4% vs 9.6% vs 6.6%</text>
<line x1="299.5" y1="295.7" x2="386.6" y2="295.7" stroke="#e6e6e6" stroke-width="1"/>
<line x1="299.5" y1="277.33" x2="386.6" y2="277.33" stroke="#e6e6e6" stroke-width="1"/>
<line x1="299.5" y1="258.96" x2="386.6" y2="258.96" stroke="#e6e6e6" stroke-width="1"/>
<line x1="299.5" y1="240.59" x2="386.6" y2="240.59" stroke="#e6e6e6" stroke-width="1"/>
<line x1="299.5" y1="222.22" x2="386.6" y2="222.22" stroke="#e6e6e6" stroke-width="1"/>
<line x1="299.5" y1="203.85" x2="386.6" y2="203.85" stroke="#e6e6e6" stroke-width="1"/>
<line x1="299.5" y1="185.48" x2="386.6" y2="185.48" stroke="#e6e6e6" stroke-width="1"/>
<rect x="299.5" y="180.3" width="87.1" height="120.7" fill="none" stroke="#dcdcdc" stroke-width="1"/>
<text x="283.97" y="297.95" font-size="5.4" textLength="11.13" lengthAdjust="spacingAndGlyphs" fill="#333">0.00</text>
<text x="283.97" y="279.58" font-size="5.4" textLength="11.13" lengthAdjust="spacingAndGlyphs" fill="#333">0.05</text>
<text x="283.97" y="261.21" font-size="5.4" textLength="11.13" lengthAdjust="spacingAndGlyphs" fill="#333">0.10</text>
<text x="283.97" y="242.84" font-size="5.4" textLength="11.13" lengthAdjust="spacingAndGlyphs" fill="#333">0.15</text>
<text x="283.97" y="224.47" font-size="5.4" textLength="11.13" lengthAdjust="spacingAndGlyphs" fill="#333">0.20</text>
<text x="283.97" y="206.1" font-size="5.4" textLength="11.13" lengthAdjust="spacingAndGlyphs" fill="#333">0.25</text>
<text x="283.97" y="187.73" font-size="5.4" textLength="11.13" lengthAdjust="spacingAndGlyphs" fill="#333">0.30</text>
<line x1="314.02" y1="295.6" x2="314.02" y2="295.6" stroke="#4a4a4a" stroke-width="0.9"/>
<line x1="314.02" y1="279.2" x2="314.02" y2="262.8" stroke="#4a4a4a" stroke-width="0.9"/>
<line x1="310.39" y1="295.6" x2="317.65" y2="295.6" stroke="#4a4a4a" stroke-width="0.9"/>
<line x1="310.39" y1="262.8" x2="317.65" y2="262.8" stroke="#4a4a4a" stroke-width="0.9"/>
<rect x="306.76" y="279.2" width="14.52" height="16.4" fill="#597dbf" stroke="#4a4a4a" stroke-width="0.9"/>
<line x1="306.76" y1="287.3" x2="321.27" y2="287.3" stroke="#4a4a4a" stroke-width="0.9"/>
<line x1="343.05" y1="295.6" x2="343.05" y2="295.6" stroke="#4a4a4a" stroke-width="0.9"/>
<line x1="343.05" y1="292.2" x2="343.05" y2="286.2" stroke="#4a4a4a" stroke-width="0.9"/>
<line x1="339.42" y1="295.6" x2="346.68" y2="295.6" stroke="#4a4a4a" stroke-width="0.9"/>
<line x1="339.42" y1="286.2" x2="346.68" y2="286.2" stroke="#4a4a4a" stroke-width="0.9"/>
<rect x="335.79" y="292.2" width="14.52" height="3.4" fill="#d98b5f" stroke="#4a4a4a" stroke-width="0.9"/>
<line x1="335.79" y1="295" x2="350.31" y2="295" stroke="#4a4a4a" stroke-width="0.9"/>
<line x1="364.83" y1="295.6" x2="379.34" y2="295.6" stroke="#777" stroke-width="1.1"/>
<path d="M314.02 209.9L315.92 212.3L314.02 214.7L312.12 212.3Z" fill="#474747"/>
<path d="M314.02 214.2L315.92 216.6L314.02 219L312.12 216.6Z" fill="#474747"/>
<path d="M343.05 203.6L344.95 206L343.05 208.4L341.15 206Z" fill="#474747"/>
<path d="M343.05 218.9L344.95 221.3L343.05 223.7L341.15 221.3Z" fill="#474747"/>
<path d="M343.05 255.4L344.95 257.8L343.05 260.2L341.15 257.8Z" fill="#474747"/>
<path d="M343.05 262.3L344.95 264.7L343.05 267.1L341.15 264.7Z" fill="#474747"/>
<path d="M343.05 267.1L344.95 269.5L343.05 271.9L341.15 269.5Z" fill="#474747"/>
<path d="M343.05 274L344.95 276.4L343.05 278.8L341.15 276.4Z" fill="#474747"/>
<path d="M343.05 281.2L344.95 283.6L343.05 286L341.15 283.6Z" fill="#474747"/>
<path d="M343.05 282.3L344.95 284.7L343.05 287.1L341.15 284.7Z" fill="#474747"/>
<path d="M372.08 230.4L373.98 232.8L372.08 235.2L370.18 232.8Z" fill="#474747"/>
<path d="M372.08 252.6L373.98 255L372.08 257.4L370.18 255Z" fill="#474747"/>
<path d="M372.08 254.6L373.98 257L372.08 259.4L370.18 257Z" fill="#474747"/>
<path d="M372.08 256.6L373.98 259L372.08 261.4L370.18 259Z" fill="#474747"/>
<path d="M372.08 258.6L373.98 261L372.08 263.4L370.18 261Z" fill="#474747"/>
<path d="M372.08 260.6L373.98 263L372.08 265.4L370.18 263Z" fill="#474747"/>
<path d="M372.08 262.6L373.98 265L372.08 267.4L370.18 265Z" fill="#474747"/>
<path d="M372.08 264.6L373.98 267L372.08 269.4L370.18 267Z" fill="#474747"/>
<path d="M372.08 266.6L373.98 269L372.08 271.4L370.18 269Z" fill="#474747"/>
<path d="M372.08 268.6L373.98 271L372.08 273.4L370.18 271Z" fill="#474747"/>
<path d="M372.08 270.6L373.98 273L372.08 275.4L370.18 273Z" fill="#474747"/>
<path d="M372.08 272.6L373.98 275L372.08 277.4L370.18 275Z" fill="#474747"/>
<path d="M372.08 274.6L373.98 277L372.08 279.4L370.18 277Z" fill="#474747"/>
<path d="M372.08 276.6L373.98 279L372.08 281.4L370.18 279Z" fill="#474747"/>
<path d="M372.08 278.1L373.98 280.5L372.08 282.9L370.18 280.5Z" fill="#474747"/>
<path d="M372.08 279.51L373.98 281.91L372.08 284.31L370.18 281.91Z" fill="#474747"/>
<path d="M372.08 280.92L373.98 283.32L372.08 285.72L370.18 283.32Z" fill="#474747"/>
<path d="M372.08 282.33L373.98 284.73L372.08 287.13L370.18 284.73Z" fill="#474747"/>
<path d="M372.08 283.74L373.98 286.14L372.08 288.54L370.18 286.14Z" fill="#474747"/>
<path d="M372.08 285.15L373.98 287.55L372.08 289.95L370.18 287.55Z" fill="#474747"/>
<path d="M372.08 286.55L373.98 288.95L372.08 291.35L370.18 288.95Z" fill="#474747"/>
<path d="M372.08 287.96L373.98 290.36L372.08 292.76L370.18 290.36Z" fill="#474747"/>
<path d="M372.08 289.37L373.98 291.77L372.08 294.17L370.18 291.77Z" fill="#474747"/>
<path d="M372.08 290.78L373.98 293.18L372.08 295.58L370.18 293.18Z" fill="#474747"/>
<path d="M372.08 292.19L373.98 294.59L372.08 296.99L370.18 294.59Z" fill="#474747"/>
<path d="M372.08 293.6L373.98 296L372.08 298.4L370.18 296Z" fill="#474747"/>
<path d="M343.05 188.8V185.8H372.08V188.8" fill="none" stroke="#d4585c" stroke-width="0.8"/>
<rect x="350.97" y="186.4" width="1.3" height="1.3" fill="#d4585c"/>
<rect x="353.47" y="186.4" width="1.3" height="1.3" fill="#d4585c"/>
<rect x="355.97" y="186.4" width="1.3" height="1.3" fill="#d4585c"/>
<rect x="358.47" y="186.4" width="1.3" height="1.3" fill="#d4585c"/>
<path d="M314.02 194.4V191.4H372.08V194.4" fill="none" stroke="#d4585c" stroke-width="0.8"/>
<rect x="336.45" y="192" width="1.3" height="1.3" fill="#d4585c"/>
<rect x="338.95" y="192" width="1.3" height="1.3" fill="#d4585c"/>
<rect x="341.45" y="192" width="1.3" height="1.3" fill="#d4585c"/>
<rect x="343.95" y="192" width="1.3" height="1.3" fill="#d4585c"/>
<path d="M314.02 199.5V196.5H343.05V199.5" fill="none" stroke="#d4585c" stroke-width="0.8"/>
<rect x="321.93" y="197.1" width="1.3" height="1.3" fill="#d4585c"/>
<rect x="324.43" y="197.1" width="1.3" height="1.3" fill="#d4585c"/>
<rect x="326.93" y="197.1" width="1.3" height="1.3" fill="#d4585c"/>
<rect x="329.43" y="197.1" width="1.3" height="1.3" fill="#d4585c"/>
<text x="307.8" y="174.8" font-size="9.3" textLength="46.7" lengthAdjust="spacingAndGlyphs" fill="#111" stroke="#111" stroke-width="0.15">CD8+ T cells</text>
<text transform="translate(280.4,241) rotate(-90)" x="0" y="0" text-anchor="middle" font-size="5.8" textLength="25" lengthAdjust="spacingAndGlyphs" fill="#262626">T cells CD8</text>
<text x="306.9" y="314.4" font-size="8.64" textLength="16.7" lengthAdjust="spacingAndGlyphs" fill="#111" stroke="#111" stroke-width="0.18">High</text>
<text x="331" y="314.4" font-size="8.64" textLength="14.5" lengthAdjust="spacingAndGlyphs" fill="#111" stroke="#111" stroke-width="0.18">Low</text>
<text x="350.6" y="314.4" font-size="8.64" textLength="31.3" lengthAdjust="spacingAndGlyphs" fill="#111" stroke="#111" stroke-width="0.18">Negative</text>
<line x1="430.5" y1="295.9" x2="518.1" y2="295.9" stroke="#e6e6e6" stroke-width="1"/>
<line x1="430.5" y1="270.9" x2="518.1" y2="270.9" stroke="#e6e6e6" stroke-width="1"/>
<line x1="430.5" y1="245.9" x2="518.1" y2="245.9" stroke="#e6e6e6" stroke-width="1"/>
<line x1="430.5" y1="220.9" x2="518.1" y2="220.9" stroke="#e6e6e6" stroke-width="1"/>
<line x1="430.5" y1="195.9" x2="518.1" y2="195.9" stroke="#e6e6e6" stroke-width="1"/>
<rect x="430.5" y="180.3" width="87.6" height="120.7" fill="none" stroke="#dcdcdc" stroke-width="1"/>
<text x="414.97" y="298.15" font-size="5.4" textLength="11.13" lengthAdjust="spacingAndGlyphs" fill="#333">0.00</text>
<text x="414.97" y="273.15" font-size="5.4" textLength="11.13" lengthAdjust="spacingAndGlyphs" fill="#333">0.05</text>
<text x="414.97" y="248.15" font-size="5.4" textLength="11.13" lengthAdjust="spacingAndGlyphs" fill="#333">0.10</text>
<text x="414.97" y="223.15" font-size="5.4" textLength="11.13" lengthAdjust="spacingAndGlyphs" fill="#333">0.15</text>
<text x="414.97" y="198.15" font-size="5.4" textLength="11.13" lengthAdjust="spacingAndGlyphs" fill="#333">0.20</text>
<line x1="445.1" y1="290.6" x2="445.1" y2="295.6" stroke="#4a4a4a" stroke-width="0.9"/>
<line x1="445.1" y1="279.2" x2="445.1" y2="264.7" stroke="#4a4a4a" stroke-width="0.9"/>
<line x1="441.45" y1="295.6" x2="448.75" y2="295.6" stroke="#4a4a4a" stroke-width="0.9"/>
<line x1="441.45" y1="264.7" x2="448.75" y2="264.7" stroke="#4a4a4a" stroke-width="0.9"/>
<rect x="437.8" y="279.2" width="14.6" height="11.4" fill="#597dbf" stroke="#4a4a4a" stroke-width="0.9"/>
<line x1="437.8" y1="284.4" x2="452.4" y2="284.4" stroke="#4a4a4a" stroke-width="0.9"/>
<line x1="474.3" y1="295.6" x2="474.3" y2="295.6" stroke="#4a4a4a" stroke-width="0.9"/>
<line x1="474.3" y1="284.2" x2="474.3" y2="266.2" stroke="#4a4a4a" stroke-width="0.9"/>
<line x1="470.65" y1="295.6" x2="477.95" y2="295.6" stroke="#4a4a4a" stroke-width="0.9"/>
<line x1="470.65" y1="266.2" x2="477.95" y2="266.2" stroke="#4a4a4a" stroke-width="0.9"/>
<rect x="467" y="284.2" width="14.6" height="11.4" fill="#d98b5f" stroke="#4a4a4a" stroke-width="0.9"/>
<line x1="467" y1="290.6" x2="481.6" y2="290.6" stroke="#4a4a4a" stroke-width="0.9"/>
<line x1="503.5" y1="295.6" x2="503.5" y2="295.6" stroke="#4a4a4a" stroke-width="0.9"/>
<line x1="503.5" y1="288.3" x2="503.5" y2="277.2" stroke="#4a4a4a" stroke-width="0.9"/>
<line x1="499.85" y1="295.6" x2="507.15" y2="295.6" stroke="#4a4a4a" stroke-width="0.9"/>
<line x1="499.85" y1="277.2" x2="507.15" y2="277.2" stroke="#4a4a4a" stroke-width="0.9"/>
<rect x="496.2" y="288.3" width="14.6" height="7.3" fill="#75bf71" stroke="#4a4a4a" stroke-width="0.9"/>
<line x1="496.2" y1="295.3" x2="510.8" y2="295.3" stroke="#4a4a4a" stroke-width="0.9"/>
<path d="M445.1 255.7L447 258.1L445.1 260.5L443.2 258.1Z" fill="#474747"/>
<path d="M445.1 257.3L447 259.7L445.1 262.1L443.2 259.7Z" fill="#474747"/>
<path d="M474.3 226.2L476.2 228.6L474.3 231L472.4 228.6Z" fill="#474747"/>
<path d="M503.5 203.3L505.4 205.7L503.5 208.1L501.6 205.7Z" fill="#474747"/>
<path d="M503.5 215.6L505.4 218L503.5 220.4L501.6 218Z" fill="#474747"/>
<path d="M503.5 240.9L505.4 243.3L503.5 245.7L501.6 243.3Z" fill="#474747"/>
<path d="M503.5 246.6L505.4 249L503.5 251.4L501.6 249Z" fill="#474747"/>
<path d="M503.5 247.4L505.4 249.8L503.5 252.2L501.6 249.8Z" fill="#474747"/>
<path d="M503.5 253.1L505.4 255.5L503.5 257.9L501.6 255.5Z" fill="#474747"/>
<path d="M503.5 256.5L505.4 258.9L503.5 261.3L501.6 258.9Z" fill="#474747"/>
<path d="M503.5 257.71L505.4 260.11L503.5 262.51L501.6 260.11Z" fill="#474747"/>
<path d="M503.5 258.91L505.4 261.31L503.5 263.71L501.6 261.31Z" fill="#474747"/>
<path d="M503.5 260.12L505.4 262.52L503.5 264.92L501.6 262.52Z" fill="#474747"/>
<path d="M503.5 261.33L505.4 263.73L503.5 266.13L501.6 263.73Z" fill="#474747"/>
<path d="M503.5 262.53L505.4 264.93L503.5 267.33L501.6 264.93Z" fill="#474747"/>
<path d="M503.5 263.74L505.4 266.14L503.5 268.54L501.6 266.14Z" fill="#474747"/>
<path d="M503.5 264.95L505.4 267.35L503.5 269.75L501.6 267.35Z" fill="#474747"/>
<path d="M503.5 266.15L505.4 268.55L503.5 270.95L501.6 268.55Z" fill="#474747"/>
<path d="M503.5 267.36L505.4 269.76L503.5 272.16L501.6 269.76Z" fill="#474747"/>
<path d="M503.5 268.57L505.4 270.97L503.5 273.37L501.6 270.97Z" fill="#474747"/>
<path d="M503.5 269.77L505.4 272.17L503.5 274.57L501.6 272.17Z" fill="#474747"/>
<path d="M503.5 270.98L505.4 273.38L503.5 275.78L501.6 273.38Z" fill="#474747"/>
<path d="M503.5 272.19L505.4 274.59L503.5 276.99L501.6 274.59Z" fill="#474747"/>
<path d="M503.5 273.39L505.4 275.79L503.5 278.19L501.6 275.79Z" fill="#474747"/>
<path d="M503.5 274.6L505.4 277L503.5 279.4L501.6 277Z" fill="#474747"/>
<path d="M474.3 189V186H503.5V189" fill="none" stroke="#d4585c" stroke-width="0.8"/>
<rect x="484.1" y="186.6" width="1.3" height="1.3" fill="#d4585c"/>
<rect x="486.6" y="186.6" width="1.3" height="1.3" fill="#d4585c"/>
<rect x="489.1" y="186.6" width="1.3" height="1.3" fill="#d4585c"/>
<path d="M445.1 194.4V191.4H503.5V194.4" fill="none" stroke="#d4585c" stroke-width="0.8"/>
<rect x="467.7" y="192" width="1.3" height="1.3" fill="#d4585c"/>
<rect x="470.2" y="192" width="1.3" height="1.3" fill="#d4585c"/>
<rect x="472.7" y="192" width="1.3" height="1.3" fill="#d4585c"/>
<rect x="475.2" y="192" width="1.3" height="1.3" fill="#d4585c"/>
<path d="M445.1 199.8V196.8H474.3V199.8" fill="none" stroke="#d4585c" stroke-width="0.8"/>
<rect x="456.7" y="197.4" width="1.3" height="1.3" fill="#d4585c"/>
<rect x="459.2" y="197.4" width="1.3" height="1.3" fill="#d4585c"/>
<text x="453.6" y="174.8" font-size="9.3" textLength="20.1" lengthAdjust="spacingAndGlyphs" fill="#111" stroke="#111" stroke-width="0.15">Tregs</text>
<text transform="translate(412.3,241.8) rotate(-90)" x="0" y="0" text-anchor="middle" font-size="5.8" textLength="12.4" lengthAdjust="spacingAndGlyphs" fill="#262626">Tregs</text>
<text x="439" y="314.4" font-size="8.64" textLength="16.2" lengthAdjust="spacingAndGlyphs" fill="#111" stroke="#111" stroke-width="0.18">High</text>
<text x="462.2" y="314.4" font-size="8.64" textLength="14.8" lengthAdjust="spacingAndGlyphs" fill="#111" stroke="#111" stroke-width="0.18">Low</text>
<text x="481.7" y="314.4" font-size="8.64" textLength="32" lengthAdjust="spacingAndGlyphs" fill="#111" stroke="#111" stroke-width="0.18">Negative</text>
<line x1="561.5" y1="295.7" x2="649.6" y2="295.7" stroke="#e6e6e6" stroke-width="1"/>
<line x1="561.5" y1="275.9" x2="649.6" y2="275.9" stroke="#e6e6e6" stroke-width="1"/>
<line x1="561.5" y1="256.1" x2="649.6" y2="256.1" stroke="#e6e6e6" stroke-width="1"/>
<line x1="561.5" y1="236.3" x2="649.6" y2="236.3" stroke="#e6e6e6" stroke-width="1"/>
<line x1="561.5" y1="216.5" x2="649.6" y2="216.5" stroke="#e6e6e6" stroke-width="1"/>
<line x1="561.5" y1="196.7" x2="649.6" y2="196.7" stroke="#e6e6e6" stroke-width="1"/>
<rect x="561.5" y="180.3" width="88.1" height="120.7" fill="none" stroke="#dcdcdc" stroke-width="1"/>
<text x="545.97" y="297.95" font-size="5.4" textLength="11.13" lengthAdjust="spacingAndGlyphs" fill="#333">0.00</text>
<text x="545.97" y="278.15" font-size="5.4" textLength="11.13" lengthAdjust="spacingAndGlyphs" fill="#333">0.02</text>
<text x="545.97" y="258.35" font-size="5.4" textLength="11.13" lengthAdjust="spacingAndGlyphs" fill="#333">0.04</text>
<text x="545.97" y="238.55" font-size="5.4" textLength="11.13" lengthAdjust="spacingAndGlyphs" fill="#333">0.06</text>
<text x="545.97" y="218.75" font-size="5.4" textLength="11.13" lengthAdjust="spacingAndGlyphs" fill="#333">0.08</text>
<text x="545.97" y="198.95" font-size="5.4" textLength="11.13" lengthAdjust="spacingAndGlyphs" fill="#333">0.10</text>
<line x1="576.18" y1="295.6" x2="576.18" y2="295.6" stroke="#4a4a4a" stroke-width="0.9"/>
<line x1="576.18" y1="280.3" x2="576.18" y2="261.2" stroke="#4a4a4a" stroke-width="0.9"/>
<line x1="572.51" y1="295.6" x2="579.85" y2="295.6" stroke="#4a4a4a" stroke-width="0.9"/>
<line x1="572.51" y1="261.2" x2="579.85" y2="261.2" stroke="#4a4a4a" stroke-width="0.9"/>
<rect x="568.84" y="280.3" width="14.68" height="15.3" fill="#597dbf" stroke="#4a4a4a" stroke-width="0.9"/>
<line x1="568.84" y1="295.3" x2="583.53" y2="295.3" stroke="#4a4a4a" stroke-width="0.9"/>
<line x1="605.55" y1="295.6" x2="605.55" y2="295.6" stroke="#4a4a4a" stroke-width="0.9"/>
<line x1="605.55" y1="286.2" x2="605.55" y2="275.3" stroke="#4a4a4a" stroke-width="0.9"/>
<line x1="601.88" y1="295.6" x2="609.22" y2="295.6" stroke="#4a4a4a" stroke-width="0.9"/>
<line x1="601.88" y1="275.3" x2="609.22" y2="275.3" stroke="#4a4a4a" stroke-width="0.9"/>
<rect x="598.21" y="286.2" width="14.68" height="9.4" fill="#d98b5f" stroke="#4a4a4a" stroke-width="0.9"/>
<line x1="598.21" y1="294.4" x2="612.89" y2="294.4" stroke="#4a4a4a" stroke-width="0.9"/>
<line x1="634.92" y1="295.6" x2="634.92" y2="295.6" stroke="#4a4a4a" stroke-width="0.9"/>
<line x1="634.92" y1="287.5" x2="634.92" y2="275.3" stroke="#4a4a4a" stroke-width="0.9"/>
<line x1="631.25" y1="295.6" x2="638.59" y2="295.6" stroke="#4a4a4a" stroke-width="0.9"/>
<line x1="631.25" y1="275.3" x2="638.59" y2="275.3" stroke="#4a4a4a" stroke-width="0.9"/>
<rect x="627.58" y="287.5" width="14.68" height="8.1" fill="#75bf71" stroke="#4a4a4a" stroke-width="0.9"/>
<line x1="627.58" y1="295.3" x2="642.26" y2="295.3" stroke="#4a4a4a" stroke-width="0.9"/>
<path d="M576.18 219.6L578.08 222L576.18 224.4L574.28 222Z" fill="#474747"/>
<path d="M576.18 229.9L578.08 232.3L576.18 234.7L574.28 232.3Z" fill="#474747"/>
<path d="M605.55 259.6L607.45 262L605.55 264.4L603.65 262Z" fill="#474747"/>
<path d="M605.55 263.2L607.45 265.6L605.55 268L603.65 265.6Z" fill="#474747"/>
<path d="M605.55 267.4L607.45 269.8L605.55 272.2L603.65 269.8Z" fill="#474747"/>
<path d="M605.55 268.5L607.45 270.9L605.55 273.3L603.65 270.9Z" fill="#474747"/>
<path d="M634.92 183.6L636.82 186L634.92 188.4L633.02 186Z" fill="#474747"/>
<path d="M634.92 206.5L636.82 208.9L634.92 211.3L633.02 208.9Z" fill="#474747"/>
<path d="M634.92 221.1L636.82 223.5L634.92 225.9L633.02 223.5Z" fill="#474747"/>
<path d="M634.92 237L636.82 239.4L634.92 241.8L633.02 239.4Z" fill="#474747"/>
<path d="M634.92 253.8L636.82 256.2L634.92 258.6L633.02 256.2Z" fill="#474747"/>
<path d="M634.92 256.5L636.82 258.9L634.92 261.3L633.02 258.9Z" fill="#474747"/>
<path d="M634.92 257.74L636.82 260.14L634.92 262.54L633.02 260.14Z" fill="#474747"/>
<path d="M634.92 258.98L636.82 261.38L634.92 263.78L633.02 261.38Z" fill="#474747"/>
<path d="M634.92 260.22L636.82 262.62L634.92 265.02L633.02 262.62Z" fill="#474747"/>
<path d="M634.92 261.45L636.82 263.85L634.92 266.25L633.02 263.85Z" fill="#474747"/>
<path d="M634.92 262.69L636.82 265.09L634.92 267.49L633.02 265.09Z" fill="#474747"/>
<path d="M634.92 263.93L636.82 266.33L634.92 268.73L633.02 266.33Z" fill="#474747"/>
<path d="M634.92 265.17L636.82 267.57L634.92 269.97L633.02 267.57Z" fill="#474747"/>
<path d="M634.92 266.41L636.82 268.81L634.92 271.21L633.02 268.81Z" fill="#474747"/>
<path d="M634.92 267.65L636.82 270.05L634.92 272.45L633.02 270.05Z" fill="#474747"/>
<path d="M634.92 268.88L636.82 271.28L634.92 273.68L633.02 271.28Z" fill="#474747"/>
<path d="M634.92 270.12L636.82 272.52L634.92 274.92L633.02 272.52Z" fill="#474747"/>
<path d="M634.92 271.36L636.82 273.76L634.92 276.16L633.02 273.76Z" fill="#474747"/>
<path d="M634.92 272.6L636.82 275L634.92 277.4L633.02 275Z" fill="#474747"/>
<text x="571.8" y="174.8" font-size="9.3" textLength="51.1" lengthAdjust="spacingAndGlyphs" fill="#111" stroke="#111" stroke-width="0.15">Dendritic cells</text>
<text transform="translate(542.6,240.4) rotate(-90)" x="0" y="0" text-anchor="middle" font-size="5.8" textLength="32" lengthAdjust="spacingAndGlyphs" fill="#262626">Dendritic cells</text>
<text x="566.2" y="317.8" font-size="8.64" textLength="16.1" lengthAdjust="spacingAndGlyphs" fill="#111" stroke="#111" stroke-width="0.18">High</text>
<text x="589.7" y="317.8" font-size="8.64" textLength="15" lengthAdjust="spacingAndGlyphs" fill="#111" stroke="#111" stroke-width="0.18">Low</text>
<text x="609.4" y="317.8" font-size="8.64" textLength="31.8" lengthAdjust="spacingAndGlyphs" fill="#111" stroke="#111" stroke-width="0.18">Negative</text>
<rect x="10" y="298.9" width="26" height="5" fill="#fff"/>
<rect x="577.6" y="305" width="1" height="1" fill="#999"/>
<rect x="606.8" y="305" width="1" height="1" fill="#999"/>
<rect x="635.8" y="305" width="1" height="1" fill="#999"/>
<text x="137.6" y="150.6" font-size="4.5" fill="#555">ı)</text>
<text x="270.6" y="150.6" font-size="4.5" fill="#555">)</text>
<text x="528.8" y="314.6" font-size="5" fill="#444">a)</text>
<text x="658.2" y="314.6" font-size="5" fill="#666">(b)</text>
<rect x="307.5" y="392.3" width="77.9" height="14.1" fill="#dde8f4"/>
<rect x="385.4" y="392.3" width="77.2" height="14.1" fill="#dde8f4"/>
<rect x="518.4" y="392.3" width="82.5" height="14.1" fill="#dde8f4"/>
<rect x="249.6" y="406.4" width="57.9" height="24.8" fill="#dde8f4"/>
<rect x="307.5" y="406.4" width="77.9" height="24.8" fill="#dde8f4"/>
<rect x="385.4" y="406.4" width="77.2" height="24.8" fill="#dde8f4"/>
<rect x="462.6" y="406.4" width="55.8" height="24.8" fill="#dde8f4"/>
<rect x="518.4" y="406.4" width="82.5" height="24.8" fill="#dde8f4"/>
<rect x="600.9" y="406.4" width="77.6" height="24.8" fill="#dde8f4"/>
<rect x="307.5" y="470.5" width="77.9" height="13.9" fill="#dde8f4"/>
<rect x="385.4" y="470.5" width="77.2" height="13.9" fill="#dde8f4"/>
<rect x="600.9" y="470.5" width="77.6" height="13.9" fill="#dde8f4"/>
<rect x="249.6" y="484.4" width="57.9" height="12.8" fill="#dde8f4"/>
<rect x="307.5" y="484.4" width="77.9" height="12.8" fill="#dde8f4"/>
<rect x="462.6" y="484.4" width="55.8" height="12.8" fill="#dde8f4"/>
<rect x="518.4" y="484.4" width="82.5" height="12.8" fill="#dde8f4"/>
<rect x="249.6" y="497.2" width="57.9" height="25.9" fill="#dde8f4"/>
<rect x="307.5" y="497.2" width="77.9" height="25.9" fill="#dde8f4"/>
<rect x="518.4" y="497.2" width="82.5" height="25.9" fill="#dde8f4"/>
<rect x="249.6" y="523.1" width="57.9" height="13.3" fill="#dde8f4"/>
<rect x="307.5" y="523.1" width="77.9" height="13.3" fill="#dde8f4"/>
<rect x="385.4" y="523.1" width="77.2" height="13.3" fill="#dde8f4"/>
<rect x="462.6" y="523.1" width="55.8" height="13.3" fill="#dde8f4"/>
<rect x="518.4" y="523.1" width="82.5" height="13.3" fill="#dde8f4"/>
<rect x="600.9" y="523.1" width="77.6" height="13.3" fill="#dde8f4"/>
<rect x="249.6" y="536.4" width="57.9" height="13.2" fill="#dde8f4"/>
<rect x="307.5" y="536.4" width="77.9" height="13.2" fill="#dde8f4"/>
<rect x="385.4" y="536.4" width="77.2" height="13.2" fill="#dde8f4"/>
<rect x="462.6" y="536.4" width="55.8" height="13.2" fill="#dde8f4"/>
<rect x="518.4" y="536.4" width="82.5" height="13.2" fill="#dde8f4"/>
<rect x="600.9" y="536.4" width="77.6" height="13.2" fill="#dde8f4"/>
<line x1="2.2" y1="341" x2="678.5" y2="341" stroke="#3c3c3c" stroke-width="1"/>
<line x1="88.3" y1="355" x2="678.5" y2="355" stroke="#222" stroke-width="1.7"/>
<line x1="2.2" y1="392.3" x2="678.5" y2="392.3" stroke="#222" stroke-width="1.2"/>
<line x1="2.2" y1="406.4" x2="678.5" y2="406.4" stroke="#3c3c3c" stroke-width="1"/>
<line x1="2.2" y1="431.2" x2="678.5" y2="431.2" stroke="#3c3c3c" stroke-width="1"/>
<line x1="2.2" y1="457" x2="678.5" y2="457" stroke="#3c3c3c" stroke-width="1"/>
<line x1="2.2" y1="470.5" x2="678.5" y2="470.5" stroke="#3c3c3c" stroke-width="1"/>
<line x1="2.2" y1="484.4" x2="678.5" y2="484.4" stroke="#3c3c3c" stroke-width="1"/>
<line x1="2.2" y1="497.2" x2="678.5" y2="497.2" stroke="#3c3c3c" stroke-width="1"/>
<line x1="2.2" y1="523.1" x2="678.5" y2="523.1" stroke="#3c3c3c" stroke-width="1"/>
<line x1="2.2" y1="536.4" x2="678.5" y2="536.4" stroke="#3c3c3c" stroke-width="1"/>
<line x1="2.2" y1="549.6" x2="678.5" y2="549.6" stroke="#3c3c3c" stroke-width="1"/>
<line x1="2.2" y1="575" x2="678.5" y2="575" stroke="#3c3c3c" stroke-width="1"/>
<line x1="2.2" y1="341" x2="2.2" y2="575" stroke="#3c3c3c" stroke-width="1"/>
<line x1="88.3" y1="341" x2="88.3" y2="575" stroke="#3c3c3c" stroke-width="1"/>
<line x1="152.4" y1="355" x2="152.4" y2="575" stroke="#3c3c3c" stroke-width="1"/>
<line x1="193.8" y1="355" x2="193.8" y2="575" stroke="#3c3c3c" stroke-width="1"/>
<line x1="249.6" y1="341" x2="249.6" y2="575" stroke="#3c3c3c" stroke-width="1"/>
<line x1="307.5" y1="355" x2="307.5" y2="575" stroke="#3c3c3c" stroke-width="1"/>
<line x1="385.4" y1="355" x2="385.4" y2="575" stroke="#3c3c3c" stroke-width="1"/>
<line x1="462.6" y1="341" x2="462.6" y2="575" stroke="#3c3c3c" stroke-width="1"/>
<line x1="518.4" y1="355" x2="518.4" y2="575" stroke="#3c3c3c" stroke-width="1"/>
<line x1="600.9" y1="355" x2="600.9" y2="575" stroke="#3c3c3c" stroke-width="1"/>
<line x1="678.5" y1="341" x2="678.5" y2="575" stroke="#3c3c3c" stroke-width="1"/>
<text x="168.95" y="351.9" text-anchor="middle" font-size="10.15" font-weight="bold" fill="#000">Median</text>
<text x="356.1" y="351.9" text-anchor="middle" font-size="10.15" font-weight="bold" fill="#000">Pairwise p-value</text>
<text x="570.55" y="351.9" text-anchor="middle" font-size="10.15" font-weight="bold" fill="#000">Pairwise q-value</text>
<text x="120.35" y="389.7" text-anchor="middle" font-size="10.15" font-weight="bold" fill="#000">PD-L1 High</text>
<text x="173.1" y="378.1" text-anchor="middle" font-size="10.15" font-weight="bold" fill="#000">PD-L1</text>
<text x="173.1" y="389.7" text-anchor="middle" font-size="10.15" font-weight="bold" fill="#000">Low</text>
<text x="221.7" y="366.5" text-anchor="middle" font-size="10.15" font-weight="bold" fill="#000">PD-L1</text>
<text x="221.7" y="378.1" text-anchor="middle" font-size="10.15" font-weight="bold" fill="#000">Negative</text>
<text x="221.7" y="389.7" text-anchor="middle" font-size="10.15" font-weight="bold" fill="#000">(0)</text>
<text x="278.55" y="378.1" text-anchor="middle" font-size="10.15" font-weight="bold" fill="#000">PD-L1 High</text>
<text x="278.55" y="389.7" text-anchor="middle" font-size="10.15" font-weight="bold" fill="#000">vs Low</text>
<text x="346.45" y="378.1" text-anchor="middle" font-size="10.15" font-weight="bold" fill="#000">PD-L1 High vs</text>
<text x="346.45" y="389.7" text-anchor="middle" font-size="10.15" font-weight="bold" fill="#000">Negative (0)</text>
<text x="424" y="378.1" text-anchor="middle" font-size="10.15" font-weight="bold" fill="#000">PD-L1 Low vs</text>
<text x="424" y="389.7" text-anchor="middle" font-size="10.15" font-weight="bold" fill="#000">Negative (0)</text>
<text x="490.5" y="366.5" text-anchor="middle" font-size="10.15" font-weight="bold" fill="#000">PD-L1</text>
<text x="490.5" y="378.1" text-anchor="middle" font-size="10.15" font-weight="bold" fill="#000">High vs</text>
<text x="490.5" y="389.7" text-anchor="middle" font-size="10.15" font-weight="bold" fill="#000">Low</text>
<text x="559.65" y="378.1" text-anchor="middle" font-size="10.15" font-weight="bold" fill="#000">PD-L1 High vs</text>
<text x="559.65" y="389.7" text-anchor="middle" font-size="10.15" font-weight="bold" fill="#000">Negative (0)</text>
<text x="639.7" y="378.1" text-anchor="middle" font-size="10.15" font-weight="bold" fill="#000">PD-L1 Low vs</text>
<text x="639.7" y="389.7" text-anchor="middle" font-size="10.15" font-weight="bold" fill="#000">Negative (0)</text>
<text x="45.25" y="403.4" text-anchor="middle" font-size="10.15" font-weight="bold" fill="#000">B cells</text>
<text x="120.35" y="403.4" text-anchor="middle" font-size="10" fill="#000">0.036</text>
<text x="173.1" y="403.4" text-anchor="middle" font-size="10" fill="#000">0.035</text>
<text x="221.7" y="403.4" text-anchor="middle" font-size="10" fill="#000">0.032</text>
<text x="278.55" y="403.4" text-anchor="middle" font-size="10" fill="#000">0.34</text>
<text transform="translate(346.45,403.4) scale(0.955,1)" x="0" y="0" text-anchor="middle" font-size="10" font-style="italic" fill="#000">0.02*</text>
<text transform="translate(424,403.4) scale(0.955,1)" x="0" y="0" text-anchor="middle" font-size="10" font-style="italic" fill="#000">0.04*</text>
<text x="490.5" y="403.4" text-anchor="middle" font-size="10" fill="#000">0.46</text>
<text transform="translate(559.65,403.4) scale(0.955,1)" x="0" y="0" text-anchor="middle" font-size="10" font-style="italic" fill="#000">0.04*</text>
<text x="639.7" y="403.4" text-anchor="middle" font-size="10" fill="#000">0.08</text>
<text x="45.25" y="428.5" text-anchor="middle" font-size="10.15" font-weight="bold" fill="#000">Macrophages M1</text>
<text x="120.35" y="428.5" text-anchor="middle" font-size="10" fill="#000">0.068</text>
<text x="173.1" y="428.5" text-anchor="middle" font-size="10" fill="#000">0.035</text>
<text x="221.7" y="428.5" text-anchor="middle" font-size="10" fill="#000">0.023</text>
<text transform="translate(278.55,428.5) scale(0.955,1)" x="0" y="0" text-anchor="middle" font-size="10" font-style="italic" fill="#000">0.001*</text>
<text transform="translate(346.45,428.5) scale(0.955,1)" x="0" y="0" text-anchor="middle" font-size="10" font-style="italic" fill="#000">3.13E-07***</text>
<text transform="translate(424,428.5) scale(0.955,1)" x="0" y="0" text-anchor="middle" font-size="10" font-style="italic" fill="#000">0.001*</text>
<text transform="translate(490.5,428.5) scale(0.955,1)" x="0" y="0" text-anchor="middle" font-size="10" font-style="italic" fill="#000">0.004*</text>
<text transform="translate(559.65,428.5) scale(0.955,1)" x="0" y="0" text-anchor="middle" font-size="10" font-style="italic" fill="#000">3.13E-06***</text>
<text transform="translate(639.7,428.5) scale(0.955,1)" x="0" y="0" text-anchor="middle" font-size="10" font-style="italic" fill="#000">0.003*</text>
<text x="45.25" y="454.2" text-anchor="middle" font-size="10.15" font-weight="bold" fill="#000">Macrophages M2</text>
<text x="120.35" y="454.2" text-anchor="middle" font-size="10" fill="#000">0.045</text>
<text x="173.1" y="454.2" text-anchor="middle" font-size="10" fill="#000">0.046</text>
<text x="221.7" y="454.2" text-anchor="middle" font-size="10" fill="#000">0.042</text>
<text x="278.55" y="454.2" text-anchor="middle" font-size="10" fill="#000">0.83</text>
<text x="346.45" y="454.2" text-anchor="middle" font-size="10" fill="#000">0.64</text>
<text x="424" y="454.2" text-anchor="middle" font-size="10" fill="#000">0.49</text>
<text x="490.5" y="454.2" text-anchor="middle" font-size="10" fill="#000">0.89</text>
<text x="559.65" y="454.2" text-anchor="middle" font-size="10" fill="#000">0.74</text>
<text x="639.7" y="454.2" text-anchor="middle" font-size="10" fill="#000">0.61</text>
<text x="45.25" y="467.7" text-anchor="middle" font-size="10.15" font-weight="bold" fill="#000">**Monocytes</text>
<text x="120.35" y="467.7" text-anchor="middle" font-size="10" fill="#000">0</text>
<text x="173.1" y="467.7" text-anchor="middle" font-size="10" fill="#000">0</text>
<text x="221.7" y="467.7" text-anchor="middle" font-size="10" fill="#000">0</text>
<text x="278.55" y="467.7" text-anchor="middle" font-size="10" fill="#000">0.8</text>
<text x="346.45" y="467.7" text-anchor="middle" font-size="10" fill="#000">0.53</text>
<text x="424" y="467.7" text-anchor="middle" font-size="10" fill="#000">0.17</text>
<text x="490.5" y="467.7" text-anchor="middle" font-size="10" fill="#000">0.88</text>
<text x="559.65" y="467.7" text-anchor="middle" font-size="10" fill="#000">0.63</text>
<text x="639.7" y="467.7" text-anchor="middle" font-size="10" fill="#000">0.26</text>
<text x="45.25" y="480.8" text-anchor="middle" font-size="10.15" font-weight="bold" fill="#000">Neutrophils</text>
<text x="120.35" y="480.8" text-anchor="middle" font-size="10" fill="#000">0.06</text>
<text x="173.1" y="480.8" text-anchor="middle" font-size="10" fill="#000">0.056</text>
<text x="221.7" y="480.8" text-anchor="middle" font-size="10" fill="#000">0.065</text>
<text x="278.55" y="480.8" text-anchor="middle" font-size="10" fill="#000">0.92</text>
<text x="346.45" y="480.8" text-anchor="middle" font-size="10" fill="#000">0.12</text>
<text transform="translate(424,480.8) scale(0.955,1)" x="0" y="0" text-anchor="middle" font-size="10" font-style="italic" fill="#000">0.007*</text>
<text x="490.5" y="480.8" text-anchor="middle" font-size="10" fill="#000">0.95</text>
<text x="559.65" y="480.8" text-anchor="middle" font-size="10" fill="#000">0.2</text>
<text transform="translate(639.7,480.8) scale(0.955,1)" x="0" y="0" text-anchor="middle" font-size="10" font-style="italic" fill="#000">0.01*</text>
<text x="45.25" y="494.5" text-anchor="middle" font-size="10.15" font-weight="bold" fill="#000">NK cells</text>
<text x="120.35" y="494.5" text-anchor="middle" font-size="10" fill="#000">0.031</text>
<text x="173.1" y="494.5" text-anchor="middle" font-size="10" fill="#000">0.043</text>
<text x="221.7" y="494.5" text-anchor="middle" font-size="10" fill="#000">0.048</text>
<text transform="translate(278.55,494.5) scale(0.955,1)" x="0" y="0" text-anchor="middle" font-size="10" font-style="italic" fill="#000">0.0008*</text>
<text transform="translate(346.45,494.5) scale(0.955,1)" x="0" y="0" text-anchor="middle" font-size="10" font-style="italic" fill="#000">2.04E-06***</text>
<text x="424" y="494.5" text-anchor="middle" font-size="10" fill="#000">0.09</text>
<text transform="translate(490.5,494.5) scale(0.955,1)" x="0" y="0" text-anchor="middle" font-size="10" font-style="italic" fill="#000">0.002*</text>
<text transform="translate(559.65,494.5) scale(0.955,1)" x="0" y="0" text-anchor="middle" font-size="10" font-style="italic" fill="#000">1.53E-05***</text>
<text x="639.7" y="494.5" text-anchor="middle" font-size="10" fill="#000">0.17</text>
<text x="45.25" y="520.2" text-anchor="middle" font-size="10.15" font-weight="bold" fill="#000">**T cells CD4</text>
<text x="120.35" y="520.2" text-anchor="middle" font-size="10" fill="#000">0</text>
<text x="173.1" y="520.2" text-anchor="middle" font-size="10" fill="#000">0</text>
<text x="221.7" y="520.2" text-anchor="middle" font-size="10" fill="#000">0</text>
<text transform="translate(278.55,520.2) scale(0.955,1)" x="0" y="0" text-anchor="middle" font-size="10" font-style="italic" fill="#000">0.02*</text>
<text transform="translate(346.45,520.2) scale(0.955,1)" x="0" y="0" text-anchor="middle" font-size="10" font-style="italic" fill="#000">3.88E-05***</text>
<text x="424" y="520.2" text-anchor="middle" font-size="10" fill="#000">0.31</text>
<text x="490.5" y="520.2" text-anchor="middle" font-size="10" fill="#000">0.05</text>
<text transform="translate(559.65,520.2) scale(0.955,1)" x="0" y="0" text-anchor="middle" font-size="10" font-style="italic" fill="#000">0.0002*</text>
<text x="639.7" y="520.2" text-anchor="middle" font-size="10" fill="#000">0.45</text>
<text x="45.25" y="533.7" text-anchor="middle" font-size="10.15" font-weight="bold" fill="#000">T cells CD8</text>
<text x="120.35" y="533.7" text-anchor="middle" font-size="10" fill="#000">0.022</text>
<text x="173.1" y="533.7" text-anchor="middle" font-size="10" fill="#000">0</text>
<text x="221.7" y="533.7" text-anchor="middle" font-size="10" fill="#000">0</text>
<text transform="translate(278.55,533.7) scale(0.955,1)" x="0" y="0" text-anchor="middle" font-size="10" font-style="italic" fill="#000">4.50E-05***</text>
<text transform="translate(346.45,533.7) scale(0.955,1)" x="0" y="0" text-anchor="middle" font-size="10" font-style="italic" fill="#000">5.99E-18***</text>
<text transform="translate(424,533.7) scale(0.955,1)" x="0" y="0" text-anchor="middle" font-size="10" font-style="italic" fill="#000">5.62E-06***</text>
<text transform="translate(490.5,533.7) scale(0.955,1)" x="0" y="0" text-anchor="middle" font-size="10" font-style="italic" fill="#000">0.0001*</text>
<text transform="translate(559.65,533.7) scale(0.955,1)" x="0" y="0" text-anchor="middle" font-size="10" font-style="italic" fill="#000">1.80E-16***</text>
<text transform="translate(639.7,533.7) scale(0.955,1)" x="0" y="0" text-anchor="middle" font-size="10" font-style="italic" fill="#000">3.37E-05***</text>
<text x="45.25" y="546.8" text-anchor="middle" font-size="10.15" font-weight="bold" fill="#000">Tregs</text>
<text x="120.35" y="546.8" text-anchor="middle" font-size="10" fill="#000">0.023</text>
<text x="173.1" y="546.8" text-anchor="middle" font-size="10" fill="#000">0.009</text>
<text x="221.7" y="546.8" text-anchor="middle" font-size="10" fill="#000">0.002</text>
<text transform="translate(278.55,546.8) scale(0.955,1)" x="0" y="0" text-anchor="middle" font-size="10" font-style="italic" fill="#000">0.003*</text>
<text transform="translate(346.45,546.8) scale(0.955,1)" x="0" y="0" text-anchor="middle" font-size="10" font-style="italic" fill="#000">8.42E-09***</text>
<text transform="translate(424,546.8) scale(0.955,1)" x="0" y="0" text-anchor="middle" font-size="10" font-style="italic" fill="#000">0.0005*</text>
<text transform="translate(490.5,546.8) scale(0.955,1)" x="0" y="0" text-anchor="middle" font-size="10" font-style="italic" fill="#000">0.007*</text>
<text transform="translate(559.65,546.8) scale(0.955,1)" x="0" y="0" text-anchor="middle" font-size="10" font-style="italic" fill="#000">1.26E-07***</text>
<text transform="translate(639.7,546.8) scale(0.955,1)" x="0" y="0" text-anchor="middle" font-size="10" font-style="italic" fill="#000">0.002*</text>
<text x="45.25" y="572.3" text-anchor="middle" font-size="10.15" font-weight="bold" fill="#000">Dendritic cells</text>
<text x="120.35" y="572.3" text-anchor="middle" font-size="10" fill="#000">0.0009</text>
<text x="173.1" y="572.3" text-anchor="middle" font-size="10" fill="#000">0.001</text>
<text x="221.7" y="572.3" text-anchor="middle" font-size="10" fill="#000">0.0009</text>
<text x="278.55" y="572.3" text-anchor="middle" font-size="10" fill="#000">0.97</text>
<text x="346.45" y="572.3" text-anchor="middle" font-size="10" fill="#000">0.48</text>
<text x="424" y="572.3" text-anchor="middle" font-size="10" fill="#000">0.3</text>
<text x="490.5" y="572.3" text-anchor="middle" font-size="10" fill="#000">0.97</text>
<text x="559.65" y="572.3" text-anchor="middle" font-size="10" fill="#000">0.61</text>
<text x="639.7" y="572.3" text-anchor="middle" font-size="10" fill="#000">0.45</text>
<text x="6" y="340.2" font-size="10.2" font-weight="bold" fill="#000">B.</text>
</svg>
</body></html>
